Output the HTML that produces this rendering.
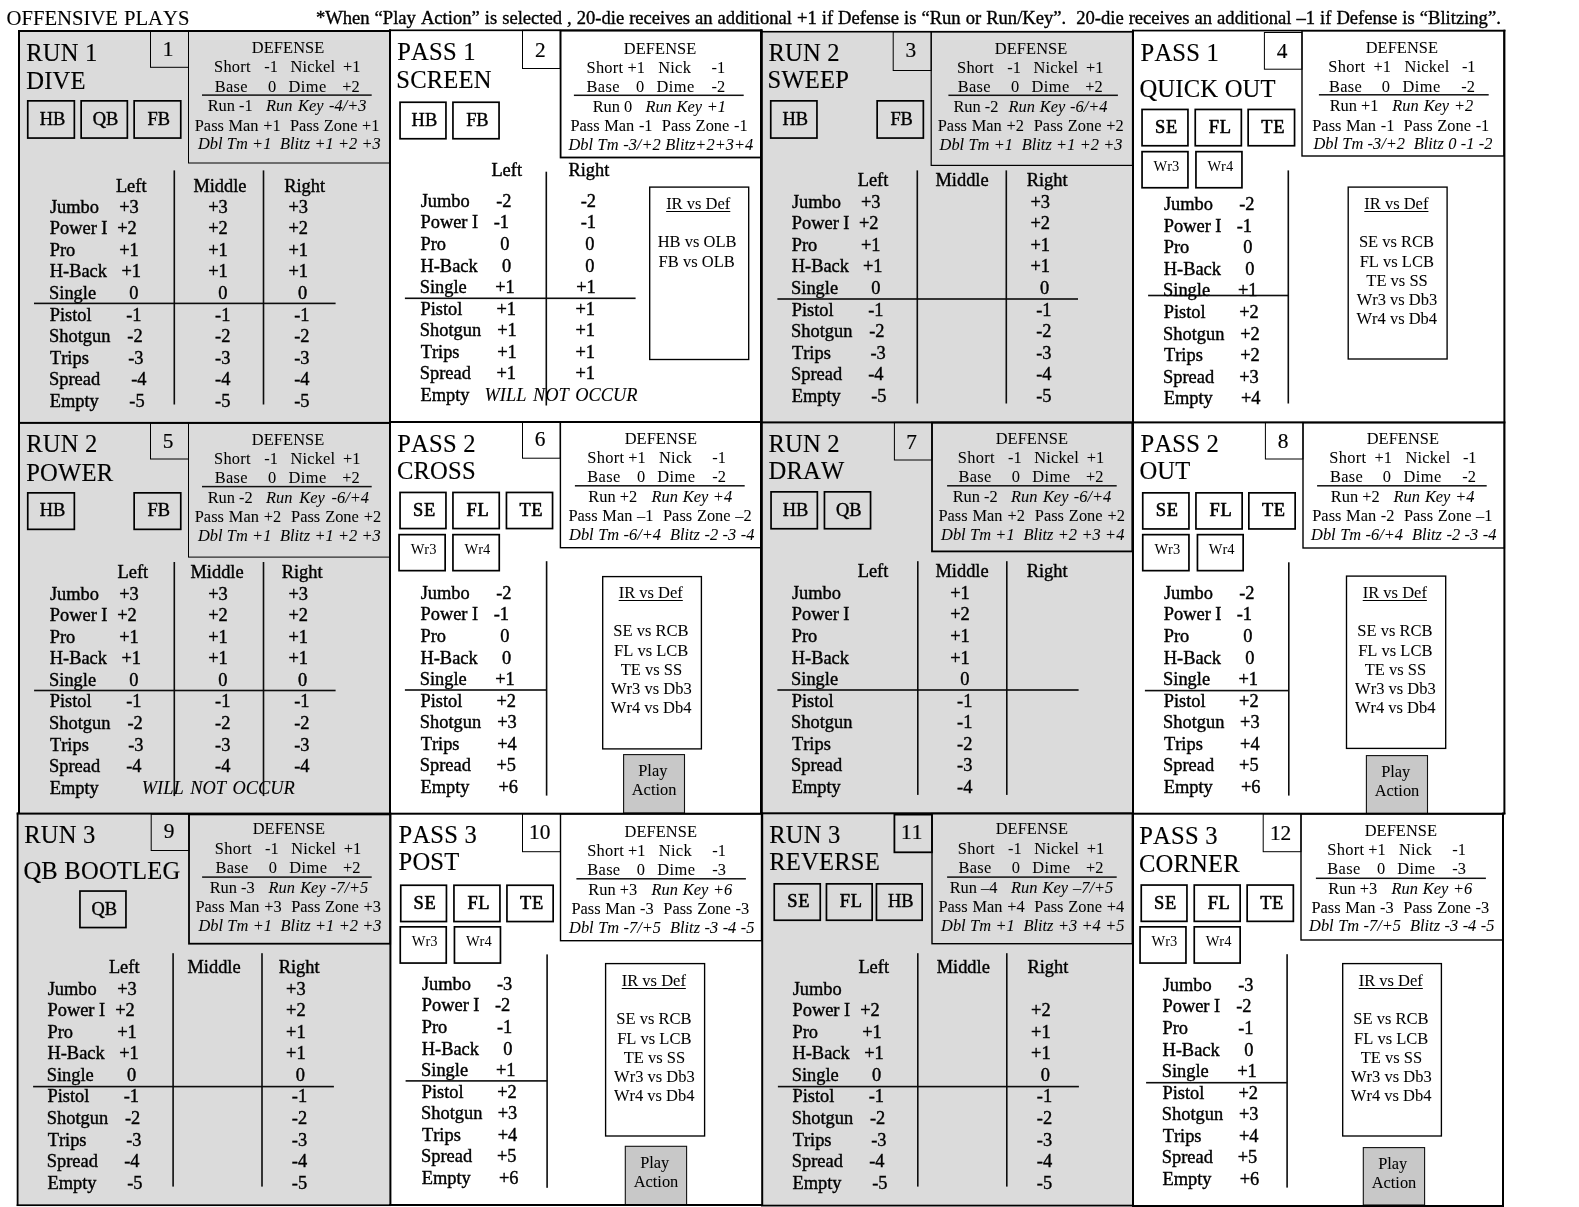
<!DOCTYPE html>
<html><head><meta charset="utf-8"><title>Offensive Plays</title>
<style>
html,body{margin:0;padding:0;background:#fff;}
body{width:1579px;height:1207px;position:relative;overflow:hidden;font-family:"Liberation Serif",serif;color:#000;}
svg{position:absolute;left:0;top:0;}
#tx{position:absolute;left:0;top:0;width:1579px;height:1207px;will-change:transform;}
.t{position:absolute;white-space:nowrap;line-height:30px;font-kerning:none;font-variant-ligatures:none;}
.it{font-style:italic;}
.bd{font-weight:bold;}
</style></head><body>
<svg width="1579" height="1207" viewBox="0 0 1579 1207">
<rect x="19.00" y="31.00" width="371.00" height="783.00" fill="#dbdbdb"/>
<rect x="17.60" y="813.00" width="372.80" height="392.20" fill="#dbdbdb"/>
<rect x="761.50" y="31.70" width="371.00" height="782.30" fill="#dbdbdb"/>
<rect x="762.20" y="813.00" width="370.80" height="392.60" fill="#dbdbdb"/>
<rect x="150.50" y="31.00" width="38.00" height="36.30" fill="none" stroke="#000" stroke-width="1.0"/>
<rect x="188.50" y="31.00" width="201.50" height="132.00" fill="none" stroke="#000" stroke-width="1.0"/>
<rect x="202.00" y="94.35" width="169.70" height="1.50" fill="#111"/>
<rect x="27.75" y="100.85" width="46.60" height="37.20" fill="none" stroke="#000" stroke-width="1.7"/>
<rect x="81.15" y="100.85" width="46.20" height="37.20" fill="none" stroke="#000" stroke-width="1.7"/>
<rect x="134.15" y="100.85" width="46.60" height="37.20" fill="none" stroke="#000" stroke-width="1.7"/>
<rect x="173.50" y="170.40" width="1.60" height="234.10" fill="#0c0c0c"/>
<rect x="262.70" y="170.40" width="1.60" height="234.10" fill="#0c0c0c"/>
<rect x="34.00" y="302.60" width="301.60" height="1.60" fill="#0c0c0c"/>
<rect x="522.50" y="30.30" width="37.70" height="38.20" fill="none" stroke="#000" stroke-width="1.0"/>
<rect x="560.60" y="30.60" width="200.40" height="126.90" fill="none" stroke="#000" stroke-width="1.8"/>
<rect x="573.90" y="94.55" width="169.80" height="1.50" fill="#111"/>
<rect x="400.05" y="102.25" width="45.90" height="36.50" fill="none" stroke="#000" stroke-width="1.7"/>
<rect x="452.95" y="102.25" width="46.10" height="36.50" fill="none" stroke="#000" stroke-width="1.7"/>
<rect x="545.50" y="171.70" width="1.60" height="233.80" fill="#0c0c0c"/>
<rect x="404.90" y="297.50" width="230.70" height="1.60" fill="#0c0c0c"/>
<rect x="649.70" y="187.10" width="99.00" height="172.40" fill="none" stroke="#000" stroke-width="1.35"/>
<rect x="893.20" y="31.70" width="38.00" height="38.80" fill="none" stroke="#000" stroke-width="1.0"/>
<rect x="931.20" y="31.70" width="201.30" height="133.70" fill="none" stroke="#000" stroke-width="1.2"/>
<rect x="948.40" y="94.55" width="169.50" height="1.50" fill="#111"/>
<rect x="770.75" y="100.85" width="46.20" height="37.20" fill="none" stroke="#000" stroke-width="1.7"/>
<rect x="877.15" y="100.85" width="46.20" height="37.20" fill="none" stroke="#000" stroke-width="1.7"/>
<rect x="916.50" y="170.40" width="1.60" height="233.10" fill="#0c0c0c"/>
<rect x="1005.50" y="170.40" width="1.60" height="233.10" fill="#0c0c0c"/>
<rect x="777.40" y="298.20" width="300.60" height="1.60" fill="#0c0c0c"/>
<rect x="1264.40" y="32.50" width="37.60" height="36.70" fill="none" stroke="#000" stroke-width="1.0"/>
<rect x="1302.00" y="30.70" width="202.00" height="125.30" fill="none" stroke="#000" stroke-width="1.4"/>
<rect x="1318.90" y="94.05" width="169.80" height="1.50" fill="#111"/>
<rect x="1142.05" y="109.45" width="45.90" height="36.30" fill="none" stroke="#000" stroke-width="1.7"/>
<rect x="1195.25" y="109.45" width="46.10" height="36.30" fill="none" stroke="#000" stroke-width="1.7"/>
<rect x="1248.15" y="109.45" width="46.40" height="36.30" fill="none" stroke="#000" stroke-width="1.7"/>
<rect x="1142.05" y="151.65" width="45.90" height="36.10" fill="none" stroke="#000" stroke-width="1.7"/>
<rect x="1195.95" y="151.65" width="46.00" height="36.10" fill="none" stroke="#000" stroke-width="1.7"/>
<rect x="1287.50" y="170.40" width="1.60" height="233.10" fill="#0c0c0c"/>
<rect x="1148.10" y="294.70" width="140.20" height="1.60" fill="#0c0c0c"/>
<rect x="1348.20" y="187.10" width="98.90" height="171.90" fill="#fff" stroke="#000" stroke-width="1.35"/>
<rect x="150.50" y="423.00" width="38.00" height="36.00" fill="none" stroke="#000" stroke-width="1.0"/>
<rect x="188.50" y="423.00" width="201.50" height="134.10" fill="none" stroke="#000" stroke-width="1.0"/>
<rect x="202.00" y="485.85" width="169.70" height="1.50" fill="#111"/>
<rect x="27.75" y="492.85" width="46.60" height="36.50" fill="none" stroke="#000" stroke-width="1.7"/>
<rect x="134.15" y="492.85" width="46.60" height="36.50" fill="none" stroke="#000" stroke-width="1.7"/>
<rect x="173.50" y="562.00" width="1.60" height="234.10" fill="#0c0c0c"/>
<rect x="262.70" y="562.00" width="1.60" height="234.10" fill="#0c0c0c"/>
<rect x="34.10" y="689.70" width="301.50" height="1.60" fill="#0c0c0c"/>
<rect x="522.50" y="422.00" width="37.70" height="36.20" fill="none" stroke="#000" stroke-width="1.0"/>
<rect x="560.40" y="422.20" width="200.60" height="125.50" fill="none" stroke="#000" stroke-width="1.4"/>
<rect x="574.90" y="485.05" width="169.80" height="1.50" fill="#111"/>
<rect x="400.05" y="492.45" width="45.90" height="36.10" fill="none" stroke="#000" stroke-width="1.7"/>
<rect x="452.95" y="492.45" width="46.30" height="36.10" fill="none" stroke="#000" stroke-width="1.7"/>
<rect x="506.45" y="492.45" width="46.10" height="36.10" fill="none" stroke="#000" stroke-width="1.7"/>
<rect x="399.05" y="534.65" width="46.10" height="36.00" fill="none" stroke="#000" stroke-width="1.7"/>
<rect x="452.95" y="534.65" width="46.30" height="36.00" fill="none" stroke="#000" stroke-width="1.7"/>
<rect x="545.80" y="561.20" width="1.60" height="234.40" fill="#0c0c0c"/>
<rect x="404.90" y="689.20" width="141.70" height="1.60" fill="#0c0c0c"/>
<rect x="602.70" y="576.60" width="98.70" height="172.30" fill="#fff" stroke="#000" stroke-width="1.35"/>
<rect x="623.60" y="754.60" width="60.90" height="58.40" fill="#c8c8c8" stroke="#111" stroke-width="1.1"/>
<rect x="894.40" y="422.40" width="37.60" height="37.60" fill="none" stroke="#000" stroke-width="1.0"/>
<rect x="932.00" y="422.60" width="200.30" height="128.80" fill="none" stroke="#000" stroke-width="1.8"/>
<rect x="947.10" y="485.05" width="169.60" height="1.50" fill="#111"/>
<rect x="771.05" y="491.85" width="46.30" height="36.90" fill="none" stroke="#000" stroke-width="1.7"/>
<rect x="824.45" y="491.85" width="46.10" height="36.90" fill="none" stroke="#000" stroke-width="1.7"/>
<rect x="917.00" y="561.20" width="1.60" height="233.70" fill="#0c0c0c"/>
<rect x="1006.00" y="561.20" width="1.60" height="233.70" fill="#0c0c0c"/>
<rect x="777.40" y="689.20" width="301.20" height="1.60" fill="#0c0c0c"/>
<rect x="1265.40" y="422.40" width="37.60" height="36.60" fill="none" stroke="#000" stroke-width="1.0"/>
<rect x="1303.00" y="422.60" width="201.40" height="125.40" fill="none" stroke="#000" stroke-width="1.4"/>
<rect x="1317.10" y="485.05" width="169.60" height="1.50" fill="#111"/>
<rect x="1142.75" y="492.85" width="46.20" height="36.10" fill="none" stroke="#000" stroke-width="1.7"/>
<rect x="1195.95" y="492.85" width="46.20" height="36.10" fill="none" stroke="#000" stroke-width="1.7"/>
<rect x="1248.85" y="492.85" width="46.30" height="36.10" fill="none" stroke="#000" stroke-width="1.7"/>
<rect x="1142.75" y="534.65" width="46.20" height="36.00" fill="none" stroke="#000" stroke-width="1.7"/>
<rect x="1197.45" y="534.65" width="45.70" height="36.00" fill="none" stroke="#000" stroke-width="1.7"/>
<rect x="1288.00" y="562.30" width="1.60" height="233.30" fill="#0c0c0c"/>
<rect x="1144.90" y="689.80" width="143.90" height="1.60" fill="#0c0c0c"/>
<rect x="1346.50" y="576.10" width="99.20" height="172.30" fill="#fff" stroke="#000" stroke-width="1.35"/>
<rect x="1366.40" y="755.60" width="61.10" height="57.90" fill="#c8c8c8" stroke="#111" stroke-width="1.1"/>
<rect x="151.20" y="814.20" width="37.80" height="36.30" fill="none" stroke="#000" stroke-width="1.0"/>
<rect x="189.00" y="814.40" width="201.20" height="129.30" fill="none" stroke="#000" stroke-width="1.8"/>
<rect x="202.10" y="876.35" width="169.60" height="1.50" fill="#111"/>
<rect x="79.95" y="891.05" width="46.00" height="36.50" fill="none" stroke="#000" stroke-width="1.7"/>
<rect x="172.30" y="953.20" width="1.60" height="233.40" fill="#0c0c0c"/>
<rect x="261.20" y="953.20" width="1.60" height="233.40" fill="#0c0c0c"/>
<rect x="33.10" y="1085.80" width="300.80" height="1.60" fill="#0c0c0c"/>
<rect x="522.50" y="813.70" width="38.00" height="38.00" fill="none" stroke="#000" stroke-width="1.0"/>
<rect x="560.50" y="813.90" width="201.00" height="126.80" fill="none" stroke="#000" stroke-width="1.4"/>
<rect x="576.40" y="878.05" width="169.50" height="1.50" fill="#111"/>
<rect x="400.75" y="885.25" width="45.70" height="36.30" fill="none" stroke="#000" stroke-width="1.7"/>
<rect x="453.95" y="885.25" width="46.00" height="36.30" fill="none" stroke="#000" stroke-width="1.7"/>
<rect x="506.95" y="885.25" width="46.20" height="36.30" fill="none" stroke="#000" stroke-width="1.7"/>
<rect x="400.25" y="926.85" width="46.00" height="36.20" fill="none" stroke="#000" stroke-width="1.7"/>
<rect x="454.45" y="926.85" width="46.00" height="36.20" fill="none" stroke="#000" stroke-width="1.7"/>
<rect x="546.30" y="954.40" width="1.60" height="233.40" fill="#0c0c0c"/>
<rect x="405.60" y="1080.10" width="141.50" height="1.60" fill="#0c0c0c"/>
<rect x="605.60" y="963.60" width="99.00" height="172.40" fill="#fff" stroke="#000" stroke-width="1.35"/>
<rect x="625.30" y="1146.30" width="61.30" height="58.70" fill="#c8c8c8" stroke="#111" stroke-width="1.1"/>
<rect x="894.40" y="814.60" width="37.60" height="37.70" fill="none" stroke="#000" stroke-width="1.8"/>
<rect x="932.00" y="813.60" width="200.30" height="130.10" fill="none" stroke="#000" stroke-width="1.4"/>
<rect x="947.10" y="876.35" width="169.60" height="1.50" fill="#111"/>
<rect x="774.25" y="883.85" width="46.00" height="36.40" fill="none" stroke="#000" stroke-width="1.7"/>
<rect x="826.45" y="883.85" width="45.70" height="36.40" fill="none" stroke="#000" stroke-width="1.7"/>
<rect x="876.45" y="883.85" width="45.70" height="36.40" fill="none" stroke="#000" stroke-width="1.7"/>
<rect x="917.00" y="953.20" width="1.60" height="233.40" fill="#0c0c0c"/>
<rect x="1006.00" y="953.20" width="1.60" height="233.40" fill="#0c0c0c"/>
<rect x="777.90" y="1085.80" width="301.00" height="1.60" fill="#0c0c0c"/>
<rect x="1263.20" y="813.70" width="37.80" height="38.00" fill="none" stroke="#000" stroke-width="1.0"/>
<rect x="1301.00" y="813.90" width="202.30" height="126.10" fill="none" stroke="#000" stroke-width="1.4"/>
<rect x="1315.90" y="877.55" width="170.00" height="1.50" fill="#111"/>
<rect x="1141.25" y="885.05" width="45.70" height="36.30" fill="none" stroke="#000" stroke-width="1.7"/>
<rect x="1194.25" y="885.05" width="45.90" height="36.30" fill="none" stroke="#000" stroke-width="1.7"/>
<rect x="1247.15" y="885.05" width="46.20" height="36.30" fill="none" stroke="#000" stroke-width="1.7"/>
<rect x="1140.05" y="926.85" width="45.90" height="36.20" fill="none" stroke="#000" stroke-width="1.7"/>
<rect x="1194.25" y="926.85" width="45.90" height="36.20" fill="none" stroke="#000" stroke-width="1.7"/>
<rect x="1286.30" y="954.20" width="1.60" height="233.40" fill="#0c0c0c"/>
<rect x="1146.10" y="1081.90" width="141.00" height="1.60" fill="#0c0c0c"/>
<rect x="1342.70" y="963.60" width="98.70" height="172.40" fill="#fff" stroke="#000" stroke-width="1.35"/>
<rect x="1363.30" y="1147.60" width="61.30" height="57.40" fill="#c8c8c8" stroke="#111" stroke-width="1.1"/>
<rect x="18.00" y="30.00" width="2.00" height="784.00" fill="#000"/>
<rect x="16.70" y="812.60" width="1.80" height="393.40" fill="#000"/>
<rect x="389.00" y="29.30" width="2.00" height="784.70" fill="#000"/>
<rect x="389.40" y="812.60" width="2.00" height="393.40" fill="#000"/>
<rect x="760.00" y="29.30" width="2.80" height="784.70" fill="#000"/>
<rect x="761.20" y="812.60" width="2.00" height="393.40" fill="#000"/>
<rect x="1132.00" y="29.70" width="2.00" height="784.30" fill="#000"/>
<rect x="1132.00" y="812.60" width="2.00" height="393.90" fill="#000"/>
<rect x="1503.40" y="29.70" width="2.00" height="784.30" fill="#000"/>
<rect x="1502.00" y="812.60" width="2.00" height="394.40" fill="#000"/>
<rect x="18.00" y="30.00" width="373.00" height="2.00" fill="#000"/>
<rect x="389.00" y="29.45" width="373.00" height="1.70" fill="#000"/>
<rect x="761.00" y="30.90" width="372.00" height="1.60" fill="#000"/>
<rect x="1132.00" y="29.75" width="373.40" height="1.70" fill="#000"/>
<rect x="18.00" y="421.90" width="373.00" height="2.00" fill="#000"/>
<rect x="389.00" y="421.00" width="373.00" height="2.00" fill="#000"/>
<rect x="761.00" y="421.40" width="372.00" height="2.00" fill="#000"/>
<rect x="1132.00" y="421.40" width="373.40" height="2.00" fill="#000"/>
<rect x="16.70" y="812.60" width="374.30" height="2.00" fill="#000"/>
<rect x="389.00" y="812.70" width="373.00" height="2.00" fill="#000"/>
<rect x="761.00" y="812.30" width="372.00" height="2.00" fill="#000"/>
<rect x="1132.00" y="812.70" width="373.40" height="2.00" fill="#000"/>
<rect x="16.70" y="1204.35" width="374.30" height="1.70" fill="#000"/>
<rect x="389.00" y="1204.00" width="373.00" height="2.00" fill="#000"/>
<rect x="761.00" y="1204.70" width="372.00" height="1.80" fill="#000"/>
<rect x="1132.00" y="1205.00" width="372.00" height="2.00" fill="#000"/>
</svg>
<div id="tx">
<div class="t" style="top:38px;font-size:24.6px;left:26.20px;-webkit-text-stroke:0.15px #000;letter-spacing:0.2px;">RUN&nbsp;1</div>
<div class="t" style="top:66px;font-size:24.6px;left:26.20px;-webkit-text-stroke:0.15px #000;letter-spacing:0.2px;">DIVE</div>
<div class="t" style="top:34px;font-size:21.33px;left:162.68px;-webkit-text-stroke:0.2px #000;">1</div>
<div class="t" style="top:33px;font-size:16.4px;left:251.84px;letter-spacing:0.081px;-webkit-text-stroke:0.05px #000;">DEFENSE</div>
<div class="t" style="top:52px;font-size:16.4px;left:214.01px;letter-spacing:0.279px;-webkit-text-stroke:0.05px #000;">Short</div>
<div class="t" style="top:52px;font-size:16.4px;left:264.20px;-webkit-text-stroke:0.05px #000;">-1</div>
<div class="t" style="top:52px;font-size:16.4px;left:290.44px;letter-spacing:0.192px;-webkit-text-stroke:0.05px #000;">Nickel</div>
<div class="t" style="top:52px;font-size:16.4px;left:343.01px;-webkit-text-stroke:0.05px #000;">+1</div>
<div class="t" style="top:72px;font-size:16.4px;left:214.64px;letter-spacing:0.347px;-webkit-text-stroke:0.05px #000;">Base</div>
<div class="t" style="top:72px;font-size:16.4px;left:267.90px;-webkit-text-stroke:0.05px #000;">0</div>
<div class="t" style="top:72px;font-size:16.4px;left:288.44px;letter-spacing:0.459px;-webkit-text-stroke:0.05px #000;">Dime</div>
<div class="t" style="top:72px;font-size:16.4px;left:342.31px;-webkit-text-stroke:0.05px #000;">+2</div>
<div class="t" style="top:91px;font-size:16.4px;left:207.64px;-webkit-text-stroke:0.05px #000;">Run&nbsp;-1</div>
<div class="t it" style="top:91px;font-size:16.4px;left:266.11px;word-spacing:1.415px;-webkit-text-stroke:0.05px #000;">Run&nbsp;Key&nbsp;-4/+3</div>
<div class="t" style="top:111px;font-size:16.4px;left:194.74px;word-spacing:0.546px;-webkit-text-stroke:0.05px #000;">Pass&nbsp;Man&nbsp;+1&nbsp;&nbsp;Pass&nbsp;Zone&nbsp;+1</div>
<div class="t it" style="top:129px;font-size:16.4px;left:197.89px;word-spacing:0.235px;-webkit-text-stroke:0.05px #000;">Dbl&nbsp;Tm&nbsp;+1&nbsp;&nbsp;Blitz&nbsp;+1&nbsp;+2&nbsp;+3</div>
<div class="t" style="top:104px;font-size:18.4px;left:39.66px;-webkit-text-stroke:0.4px #000;">HB</div>
<div class="t" style="top:104px;font-size:18.4px;left:92.75px;-webkit-text-stroke:0.4px #000;">QB</div>
<div class="t" style="top:104px;font-size:18.4px;left:147.58px;-webkit-text-stroke:0.4px #000;">FB</div>
<div class="t" style="top:171px;font-size:18.4px;left:115.88px;-webkit-text-stroke:0.4px #000;">Left</div>
<div class="t" style="top:171px;font-size:18.4px;left:193.38px;-webkit-text-stroke:0.4px #000;">Middle</div>
<div class="t" style="top:171px;font-size:18.4px;left:284.18px;-webkit-text-stroke:0.4px #000;">Right</div>
<div class="t" style="top:192px;font-size:18.4px;left:49.93px;-webkit-text-stroke:0.4px #000;">Jumbo</div>
<div class="t" style="top:213px;font-size:18.4px;left:49.78px;-webkit-text-stroke:0.4px #000;">Power&nbsp;I</div>
<div class="t" style="top:235px;font-size:18.4px;left:49.78px;-webkit-text-stroke:0.4px #000;">Pro</div>
<div class="t" style="top:256px;font-size:18.4px;left:49.78px;-webkit-text-stroke:0.4px #000;">H-Back</div>
<div class="t" style="top:278px;font-size:18.4px;left:49.07px;-webkit-text-stroke:0.4px #000;">Single</div>
<div class="t" style="top:300px;font-size:18.4px;left:49.78px;-webkit-text-stroke:0.4px #000;">Pistol</div>
<div class="t" style="top:321px;font-size:18.4px;left:49.07px;-webkit-text-stroke:0.4px #000;">Shotgun</div>
<div class="t" style="top:343px;font-size:18.4px;left:49.99px;-webkit-text-stroke:0.4px #000;">Trips</div>
<div class="t" style="top:364px;font-size:18.4px;left:49.07px;-webkit-text-stroke:0.4px #000;">Spread</div>
<div class="t" style="top:386px;font-size:18.4px;left:49.78px;-webkit-text-stroke:0.4px #000;">Empty</div>
<div class="t" style="top:192px;font-size:18.4px;left:119.21px;-webkit-text-stroke:0.4px #000;">+3</div>
<div class="t" style="top:213px;font-size:18.4px;left:117.21px;-webkit-text-stroke:0.4px #000;">+2</div>
<div class="t" style="top:235px;font-size:18.4px;left:119.21px;-webkit-text-stroke:0.4px #000;">+1</div>
<div class="t" style="top:256px;font-size:18.4px;left:121.51px;-webkit-text-stroke:0.4px #000;">+1</div>
<div class="t" style="top:278px;font-size:18.4px;left:129.13px;-webkit-text-stroke:0.4px #000;">0</div>
<div class="t" style="top:300px;font-size:18.4px;left:126.13px;-webkit-text-stroke:0.4px #000;">-1</div>
<div class="t" style="top:321px;font-size:18.4px;left:127.33px;-webkit-text-stroke:0.4px #000;">-2</div>
<div class="t" style="top:343px;font-size:18.4px;left:128.13px;-webkit-text-stroke:0.4px #000;">-3</div>
<div class="t" style="top:364px;font-size:18.4px;left:131.13px;-webkit-text-stroke:0.4px #000;">-4</div>
<div class="t" style="top:386px;font-size:18.4px;left:129.33px;-webkit-text-stroke:0.4px #000;">-5</div>
<div class="t" style="top:192px;font-size:18.4px;left:208.21px;-webkit-text-stroke:0.4px #000;">+3</div>
<div class="t" style="top:213px;font-size:18.4px;left:208.21px;-webkit-text-stroke:0.4px #000;">+2</div>
<div class="t" style="top:235px;font-size:18.4px;left:208.21px;-webkit-text-stroke:0.4px #000;">+1</div>
<div class="t" style="top:256px;font-size:18.4px;left:208.21px;-webkit-text-stroke:0.4px #000;">+1</div>
<div class="t" style="top:278px;font-size:18.4px;left:218.13px;-webkit-text-stroke:0.4px #000;">0</div>
<div class="t" style="top:300px;font-size:18.4px;left:215.03px;-webkit-text-stroke:0.4px #000;">-1</div>
<div class="t" style="top:321px;font-size:18.4px;left:215.03px;-webkit-text-stroke:0.4px #000;">-2</div>
<div class="t" style="top:343px;font-size:18.4px;left:215.03px;-webkit-text-stroke:0.4px #000;">-3</div>
<div class="t" style="top:364px;font-size:18.4px;left:215.03px;-webkit-text-stroke:0.4px #000;">-4</div>
<div class="t" style="top:386px;font-size:18.4px;left:215.03px;-webkit-text-stroke:0.4px #000;">-5</div>
<div class="t" style="top:192px;font-size:18.4px;left:288.41px;-webkit-text-stroke:0.4px #000;">+3</div>
<div class="t" style="top:213px;font-size:18.4px;left:288.41px;-webkit-text-stroke:0.4px #000;">+2</div>
<div class="t" style="top:235px;font-size:18.4px;left:288.41px;-webkit-text-stroke:0.4px #000;">+1</div>
<div class="t" style="top:256px;font-size:18.4px;left:288.41px;-webkit-text-stroke:0.4px #000;">+1</div>
<div class="t" style="top:278px;font-size:18.4px;left:298.03px;-webkit-text-stroke:0.4px #000;">0</div>
<div class="t" style="top:300px;font-size:18.4px;left:294.13px;-webkit-text-stroke:0.4px #000;">-1</div>
<div class="t" style="top:321px;font-size:18.4px;left:294.13px;-webkit-text-stroke:0.4px #000;">-2</div>
<div class="t" style="top:343px;font-size:18.4px;left:294.13px;-webkit-text-stroke:0.4px #000;">-3</div>
<div class="t" style="top:364px;font-size:18.4px;left:294.13px;-webkit-text-stroke:0.4px #000;">-4</div>
<div class="t" style="top:386px;font-size:18.4px;left:294.13px;-webkit-text-stroke:0.4px #000;">-5</div>
<div class="t" style="top:37px;font-size:24.6px;left:397.20px;-webkit-text-stroke:0.15px #000;letter-spacing:0.2px;">PASS&nbsp;1</div>
<div class="t" style="top:65px;font-size:24.6px;left:396.26px;-webkit-text-stroke:0.15px #000;letter-spacing:0.2px;">SCREEN</div>
<div class="t" style="top:35px;font-size:21.33px;left:534.94px;-webkit-text-stroke:0.2px #000;">2</div>
<div class="t" style="top:34px;font-size:16.4px;left:623.84px;letter-spacing:0.081px;-webkit-text-stroke:0.05px #000;">DEFENSE</div>
<div class="t" style="top:53px;font-size:16.4px;left:586.51px;letter-spacing:0.279px;-webkit-text-stroke:0.05px #000;">Short</div>
<div class="t" style="top:53px;font-size:16.4px;left:627.41px;-webkit-text-stroke:0.05px #000;">+1</div>
<div class="t" style="top:53px;font-size:16.4px;left:658.14px;letter-spacing:0.298px;-webkit-text-stroke:0.05px #000;">Nick</div>
<div class="t" style="top:53px;font-size:16.4px;left:711.50px;-webkit-text-stroke:0.05px #000;">-1</div>
<div class="t" style="top:72px;font-size:16.4px;left:586.54px;letter-spacing:0.347px;-webkit-text-stroke:0.05px #000;">Base</div>
<div class="t" style="top:72px;font-size:16.4px;left:636.10px;-webkit-text-stroke:0.05px #000;">0</div>
<div class="t" style="top:72px;font-size:16.4px;left:656.44px;letter-spacing:0.459px;-webkit-text-stroke:0.05px #000;">Dime</div>
<div class="t" style="top:72px;font-size:16.4px;left:711.50px;-webkit-text-stroke:0.05px #000;">-2</div>
<div class="t" style="top:92px;font-size:16.4px;left:592.64px;-webkit-text-stroke:0.05px #000;">Run&nbsp;0</div>
<div class="t it" style="top:92px;font-size:16.4px;left:645.41px;word-spacing:0.632px;-webkit-text-stroke:0.05px #000;">Run&nbsp;Key&nbsp;+1</div>
<div class="t" style="top:111px;font-size:16.4px;left:570.44px;word-spacing:0.541px;-webkit-text-stroke:0.05px #000;">Pass&nbsp;Man&nbsp;-1&nbsp;&nbsp;Pass&nbsp;Zone&nbsp;-1</div>
<div class="t it" style="top:130px;font-size:16.4px;left:568.39px;word-spacing:0.550px;-webkit-text-stroke:0.05px #000;">Dbl&nbsp;Tm&nbsp;-3/+2&nbsp;Blitz+2+3+4</div>
<div class="t" style="top:105px;font-size:18.4px;left:411.61px;-webkit-text-stroke:0.4px #000;">HB</div>
<div class="t" style="top:105px;font-size:18.4px;left:466.13px;-webkit-text-stroke:0.4px #000;">FB</div>
<div class="t" style="top:155px;font-size:18.4px;left:491.38px;-webkit-text-stroke:0.4px #000;">Left</div>
<div class="t" style="top:155px;font-size:18.4px;left:568.38px;-webkit-text-stroke:0.4px #000;">Right</div>
<div class="t" style="top:186px;font-size:18.4px;left:420.63px;-webkit-text-stroke:0.4px #000;">Jumbo</div>
<div class="t" style="top:207px;font-size:18.4px;left:420.48px;-webkit-text-stroke:0.4px #000;">Power&nbsp;I</div>
<div class="t" style="top:229px;font-size:18.4px;left:420.48px;-webkit-text-stroke:0.4px #000;">Pro</div>
<div class="t" style="top:251px;font-size:18.4px;left:420.48px;-webkit-text-stroke:0.4px #000;">H-Back</div>
<div class="t" style="top:272px;font-size:18.4px;left:419.77px;-webkit-text-stroke:0.4px #000;">Single</div>
<div class="t" style="top:294px;font-size:18.4px;left:420.48px;-webkit-text-stroke:0.4px #000;">Pistol</div>
<div class="t" style="top:315px;font-size:18.4px;left:419.77px;-webkit-text-stroke:0.4px #000;">Shotgun</div>
<div class="t" style="top:337px;font-size:18.4px;left:420.69px;-webkit-text-stroke:0.4px #000;">Trips</div>
<div class="t" style="top:358px;font-size:18.4px;left:419.77px;-webkit-text-stroke:0.4px #000;">Spread</div>
<div class="t" style="top:380px;font-size:18.4px;left:420.48px;-webkit-text-stroke:0.4px #000;">Empty</div>
<div class="t" style="top:186px;font-size:18.4px;left:496.23px;-webkit-text-stroke:0.4px #000;">-2</div>
<div class="t" style="top:207px;font-size:18.4px;left:493.73px;-webkit-text-stroke:0.4px #000;">-1</div>
<div class="t" style="top:229px;font-size:18.4px;left:500.13px;-webkit-text-stroke:0.4px #000;">0</div>
<div class="t" style="top:251px;font-size:18.4px;left:501.93px;-webkit-text-stroke:0.4px #000;">0</div>
<div class="t" style="top:272px;font-size:18.4px;left:495.21px;-webkit-text-stroke:0.4px #000;">+1</div>
<div class="t" style="top:294px;font-size:18.4px;left:496.51px;-webkit-text-stroke:0.4px #000;">+1</div>
<div class="t" style="top:315px;font-size:18.4px;left:497.21px;-webkit-text-stroke:0.4px #000;">+1</div>
<div class="t" style="top:337px;font-size:18.4px;left:497.21px;-webkit-text-stroke:0.4px #000;">+1</div>
<div class="t" style="top:358px;font-size:18.4px;left:496.51px;-webkit-text-stroke:0.4px #000;">+1</div>
<div class="t" style="top:186px;font-size:18.4px;left:580.73px;-webkit-text-stroke:0.4px #000;">-2</div>
<div class="t" style="top:207px;font-size:18.4px;left:580.73px;-webkit-text-stroke:0.4px #000;">-1</div>
<div class="t" style="top:229px;font-size:18.4px;left:585.13px;-webkit-text-stroke:0.4px #000;">0</div>
<div class="t" style="top:251px;font-size:18.4px;left:585.13px;-webkit-text-stroke:0.4px #000;">0</div>
<div class="t" style="top:272px;font-size:18.4px;left:576.21px;-webkit-text-stroke:0.4px #000;">+1</div>
<div class="t" style="top:294px;font-size:18.4px;left:575.51px;-webkit-text-stroke:0.4px #000;">+1</div>
<div class="t" style="top:315px;font-size:18.4px;left:575.51px;-webkit-text-stroke:0.4px #000;">+1</div>
<div class="t" style="top:337px;font-size:18.4px;left:575.51px;-webkit-text-stroke:0.4px #000;">+1</div>
<div class="t" style="top:358px;font-size:18.4px;left:575.51px;-webkit-text-stroke:0.4px #000;">+1</div>
<div class="t it" style="top:380px;font-size:18.4px;left:484.50px;word-spacing:1.909px;-webkit-text-stroke:0.1px #000;">WILL&nbsp;NOT&nbsp;OCCUR</div>
<div class="t" style="top:189px;font-size:16.5px;left:666.13px;-webkit-text-stroke:0.05px #000;text-decoration:underline;text-decoration-thickness:1px;text-underline-offset:2px;">IR&nbsp;vs&nbsp;Def</div>
<div class="t" style="top:227px;font-size:16.5px;left:657.64px;-webkit-text-stroke:0.05px #000;">HB&nbsp;vs&nbsp;OLB</div>
<div class="t" style="top:247px;font-size:16.5px;left:658.62px;-webkit-text-stroke:0.05px #000;">FB&nbsp;vs&nbsp;OLB</div>
<div class="t" style="top:38px;font-size:24.6px;left:768.50px;-webkit-text-stroke:0.15px #000;letter-spacing:0.2px;">RUN&nbsp;2</div>
<div class="t" style="top:65px;font-size:24.6px;left:767.56px;-webkit-text-stroke:0.15px #000;letter-spacing:0.2px;">SWEEP</div>
<div class="t" style="top:35px;font-size:21.33px;left:905.58px;-webkit-text-stroke:0.2px #000;">3</div>
<div class="t" style="top:34px;font-size:16.4px;left:994.84px;letter-spacing:0.081px;-webkit-text-stroke:0.05px #000;">DEFENSE</div>
<div class="t" style="top:53px;font-size:16.4px;left:957.01px;letter-spacing:0.279px;-webkit-text-stroke:0.05px #000;">Short</div>
<div class="t" style="top:53px;font-size:16.4px;left:1007.20px;-webkit-text-stroke:0.05px #000;">-1</div>
<div class="t" style="top:53px;font-size:16.4px;left:1033.44px;letter-spacing:0.192px;-webkit-text-stroke:0.05px #000;">Nickel</div>
<div class="t" style="top:53px;font-size:16.4px;left:1086.01px;-webkit-text-stroke:0.05px #000;">+1</div>
<div class="t" style="top:72px;font-size:16.4px;left:957.64px;letter-spacing:0.347px;-webkit-text-stroke:0.05px #000;">Base</div>
<div class="t" style="top:72px;font-size:16.4px;left:1010.90px;-webkit-text-stroke:0.05px #000;">0</div>
<div class="t" style="top:72px;font-size:16.4px;left:1031.44px;letter-spacing:0.459px;-webkit-text-stroke:0.05px #000;">Dime</div>
<div class="t" style="top:72px;font-size:16.4px;left:1085.31px;-webkit-text-stroke:0.05px #000;">+2</div>
<div class="t" style="top:92px;font-size:16.4px;left:953.44px;-webkit-text-stroke:0.05px #000;">Run&nbsp;-2</div>
<div class="t it" style="top:92px;font-size:16.4px;left:1008.61px;word-spacing:0.669px;-webkit-text-stroke:0.05px #000;">Run&nbsp;Key&nbsp;-6/+4</div>
<div class="t" style="top:111px;font-size:16.4px;left:937.74px;word-spacing:0.749px;-webkit-text-stroke:0.05px #000;">Pass&nbsp;Man&nbsp;+2&nbsp;&nbsp;Pass&nbsp;Zone&nbsp;+2</div>
<div class="t it" style="top:130px;font-size:16.4px;left:939.59px;word-spacing:0.235px;-webkit-text-stroke:0.05px #000;">Dbl&nbsp;Tm&nbsp;+1&nbsp;&nbsp;Blitz&nbsp;+1&nbsp;+2&nbsp;+3</div>
<div class="t" style="top:104px;font-size:18.4px;left:782.46px;-webkit-text-stroke:0.4px #000;">HB</div>
<div class="t" style="top:104px;font-size:18.4px;left:890.38px;-webkit-text-stroke:0.4px #000;">FB</div>
<div class="t" style="top:165px;font-size:18.4px;left:857.68px;-webkit-text-stroke:0.4px #000;">Left</div>
<div class="t" style="top:165px;font-size:18.4px;left:935.48px;-webkit-text-stroke:0.4px #000;">Middle</div>
<div class="t" style="top:165px;font-size:18.4px;left:1026.68px;-webkit-text-stroke:0.4px #000;">Right</div>
<div class="t" style="top:187px;font-size:18.4px;left:791.93px;-webkit-text-stroke:0.4px #000;">Jumbo</div>
<div class="t" style="top:208px;font-size:18.4px;left:791.78px;-webkit-text-stroke:0.4px #000;">Power&nbsp;I</div>
<div class="t" style="top:230px;font-size:18.4px;left:791.78px;-webkit-text-stroke:0.4px #000;">Pro</div>
<div class="t" style="top:251px;font-size:18.4px;left:791.78px;-webkit-text-stroke:0.4px #000;">H-Back</div>
<div class="t" style="top:273px;font-size:18.4px;left:791.07px;-webkit-text-stroke:0.4px #000;">Single</div>
<div class="t" style="top:295px;font-size:18.4px;left:791.78px;-webkit-text-stroke:0.4px #000;">Pistol</div>
<div class="t" style="top:316px;font-size:18.4px;left:791.07px;-webkit-text-stroke:0.4px #000;">Shotgun</div>
<div class="t" style="top:338px;font-size:18.4px;left:791.99px;-webkit-text-stroke:0.4px #000;">Trips</div>
<div class="t" style="top:359px;font-size:18.4px;left:791.07px;-webkit-text-stroke:0.4px #000;">Spread</div>
<div class="t" style="top:381px;font-size:18.4px;left:791.78px;-webkit-text-stroke:0.4px #000;">Empty</div>
<div class="t" style="top:187px;font-size:18.4px;left:861.01px;-webkit-text-stroke:0.4px #000;">+3</div>
<div class="t" style="top:208px;font-size:18.4px;left:859.01px;-webkit-text-stroke:0.4px #000;">+2</div>
<div class="t" style="top:230px;font-size:18.4px;left:861.01px;-webkit-text-stroke:0.4px #000;">+1</div>
<div class="t" style="top:251px;font-size:18.4px;left:863.01px;-webkit-text-stroke:0.4px #000;">+1</div>
<div class="t" style="top:273px;font-size:18.4px;left:871.13px;-webkit-text-stroke:0.4px #000;">0</div>
<div class="t" style="top:295px;font-size:18.4px;left:868.13px;-webkit-text-stroke:0.4px #000;">-1</div>
<div class="t" style="top:316px;font-size:18.4px;left:869.13px;-webkit-text-stroke:0.4px #000;">-2</div>
<div class="t" style="top:338px;font-size:18.4px;left:870.43px;-webkit-text-stroke:0.4px #000;">-3</div>
<div class="t" style="top:359px;font-size:18.4px;left:868.13px;-webkit-text-stroke:0.4px #000;">-4</div>
<div class="t" style="top:381px;font-size:18.4px;left:871.13px;-webkit-text-stroke:0.4px #000;">-5</div>
<div class="t" style="top:187px;font-size:18.4px;left:1030.41px;-webkit-text-stroke:0.4px #000;">+3</div>
<div class="t" style="top:208px;font-size:18.4px;left:1030.41px;-webkit-text-stroke:0.4px #000;">+2</div>
<div class="t" style="top:230px;font-size:18.4px;left:1030.41px;-webkit-text-stroke:0.4px #000;">+1</div>
<div class="t" style="top:251px;font-size:18.4px;left:1030.41px;-webkit-text-stroke:0.4px #000;">+1</div>
<div class="t" style="top:273px;font-size:18.4px;left:1040.03px;-webkit-text-stroke:0.4px #000;">0</div>
<div class="t" style="top:295px;font-size:18.4px;left:1036.13px;-webkit-text-stroke:0.4px #000;">-1</div>
<div class="t" style="top:316px;font-size:18.4px;left:1036.13px;-webkit-text-stroke:0.4px #000;">-2</div>
<div class="t" style="top:338px;font-size:18.4px;left:1036.13px;-webkit-text-stroke:0.4px #000;">-3</div>
<div class="t" style="top:359px;font-size:18.4px;left:1036.13px;-webkit-text-stroke:0.4px #000;">-4</div>
<div class="t" style="top:381px;font-size:18.4px;left:1036.13px;-webkit-text-stroke:0.4px #000;">-5</div>
<div class="t" style="top:38px;font-size:24.6px;left:1140.50px;-webkit-text-stroke:0.15px #000;letter-spacing:0.2px;">PASS&nbsp;1</div>
<div class="t" style="top:74px;font-size:24.6px;left:1139.42px;-webkit-text-stroke:0.15px #000;letter-spacing:0.2px;">QUICK&nbsp;OUT</div>
<div class="t" style="top:36px;font-size:21.33px;left:1276.63px;-webkit-text-stroke:0.2px #000;">4</div>
<div class="t" style="top:33px;font-size:16.4px;left:1365.64px;letter-spacing:0.081px;-webkit-text-stroke:0.05px #000;">DEFENSE</div>
<div class="t" style="top:52px;font-size:16.4px;left:1328.31px;letter-spacing:0.279px;-webkit-text-stroke:0.05px #000;">Short</div>
<div class="t" style="top:52px;font-size:16.4px;left:1373.41px;-webkit-text-stroke:0.05px #000;">+1</div>
<div class="t" style="top:52px;font-size:16.4px;left:1404.54px;letter-spacing:0.192px;-webkit-text-stroke:0.05px #000;">Nickel</div>
<div class="t" style="top:52px;font-size:16.4px;left:1461.90px;-webkit-text-stroke:0.05px #000;">-1</div>
<div class="t" style="top:72px;font-size:16.4px;left:1328.94px;letter-spacing:0.347px;-webkit-text-stroke:0.05px #000;">Base</div>
<div class="t" style="top:72px;font-size:16.4px;left:1381.70px;-webkit-text-stroke:0.05px #000;">0</div>
<div class="t" style="top:72px;font-size:16.4px;left:1402.44px;letter-spacing:0.459px;-webkit-text-stroke:0.05px #000;">Dime</div>
<div class="t" style="top:72px;font-size:16.4px;left:1461.20px;-webkit-text-stroke:0.05px #000;">-2</div>
<div class="t" style="top:91px;font-size:16.4px;left:1329.64px;-webkit-text-stroke:0.05px #000;">Run&nbsp;+1</div>
<div class="t it" style="top:91px;font-size:16.4px;left:1392.31px;word-spacing:0.835px;-webkit-text-stroke:0.05px #000;">Run&nbsp;Key&nbsp;+2</div>
<div class="t" style="top:111px;font-size:16.4px;left:1312.24px;word-spacing:0.524px;-webkit-text-stroke:0.05px #000;">Pass&nbsp;Man&nbsp;-1&nbsp;&nbsp;Pass&nbsp;Zone&nbsp;-1</div>
<div class="t it" style="top:129px;font-size:16.4px;left:1313.39px;word-spacing:0.246px;-webkit-text-stroke:0.05px #000;">Dbl&nbsp;Tm&nbsp;-3/+2&nbsp;&nbsp;Blitz&nbsp;0&nbsp;-1&nbsp;-2</div>
<div class="t sb" style="top:112px;font-size:18.4px;left:1155.00px;letter-spacing:0.7px;-webkit-text-stroke:0.6px #000;">SE</div>
<div class="t sb" style="top:112px;font-size:18.4px;left:1208.74px;letter-spacing:0.7px;-webkit-text-stroke:0.6px #000;">FL</div>
<div class="t sb" style="top:112px;font-size:18.4px;left:1261.30px;letter-spacing:0.7px;-webkit-text-stroke:0.6px #000;">TE</div>
<div class="t" style="top:151px;font-size:14.5px;left:1153.60px;">Wr3</div>
<div class="t" style="top:151px;font-size:14.5px;left:1207.38px;">Wr4</div>
<div class="t" style="top:189px;font-size:18.4px;left:1163.93px;-webkit-text-stroke:0.4px #000;">Jumbo</div>
<div class="t" style="top:211px;font-size:18.4px;left:1163.78px;-webkit-text-stroke:0.4px #000;">Power&nbsp;I</div>
<div class="t" style="top:232px;font-size:18.4px;left:1163.78px;-webkit-text-stroke:0.4px #000;">Pro</div>
<div class="t" style="top:254px;font-size:18.4px;left:1163.78px;-webkit-text-stroke:0.4px #000;">H-Back</div>
<div class="t" style="top:275px;font-size:18.4px;left:1163.07px;-webkit-text-stroke:0.4px #000;">Single</div>
<div class="t" style="top:297px;font-size:18.4px;left:1163.78px;-webkit-text-stroke:0.4px #000;">Pistol</div>
<div class="t" style="top:319px;font-size:18.4px;left:1163.07px;-webkit-text-stroke:0.4px #000;">Shotgun</div>
<div class="t" style="top:340px;font-size:18.4px;left:1163.99px;-webkit-text-stroke:0.4px #000;">Trips</div>
<div class="t" style="top:362px;font-size:18.4px;left:1163.07px;-webkit-text-stroke:0.4px #000;">Spread</div>
<div class="t" style="top:383px;font-size:18.4px;left:1163.78px;-webkit-text-stroke:0.4px #000;">Empty</div>
<div class="t" style="top:189px;font-size:18.4px;left:1239.13px;-webkit-text-stroke:0.4px #000;">-2</div>
<div class="t" style="top:211px;font-size:18.4px;left:1236.73px;-webkit-text-stroke:0.4px #000;">-1</div>
<div class="t" style="top:232px;font-size:18.4px;left:1243.13px;-webkit-text-stroke:0.4px #000;">0</div>
<div class="t" style="top:254px;font-size:18.4px;left:1245.33px;-webkit-text-stroke:0.4px #000;">0</div>
<div class="t" style="top:275px;font-size:18.4px;left:1237.91px;-webkit-text-stroke:0.4px #000;">+1</div>
<div class="t" style="top:297px;font-size:18.4px;left:1239.21px;-webkit-text-stroke:0.4px #000;">+2</div>
<div class="t" style="top:319px;font-size:18.4px;left:1240.21px;-webkit-text-stroke:0.4px #000;">+2</div>
<div class="t" style="top:340px;font-size:18.4px;left:1240.21px;-webkit-text-stroke:0.4px #000;">+2</div>
<div class="t" style="top:362px;font-size:18.4px;left:1239.21px;-webkit-text-stroke:0.4px #000;">+3</div>
<div class="t" style="top:383px;font-size:18.4px;left:1240.91px;-webkit-text-stroke:0.4px #000;">+4</div>
<div class="t" style="top:189px;font-size:16.5px;left:1364.28px;-webkit-text-stroke:0.05px #000;text-decoration:underline;text-decoration-thickness:1px;text-underline-offset:2px;">IR&nbsp;vs&nbsp;Def</div>
<div class="t" style="top:227px;font-size:16.5px;left:1358.91px;-webkit-text-stroke:0.05px #000;">SE&nbsp;vs&nbsp;RCB</div>
<div class="t" style="top:247px;font-size:16.5px;left:1359.69px;-webkit-text-stroke:0.05px #000;">FL&nbsp;vs&nbsp;LCB</div>
<div class="t" style="top:266px;font-size:16.5px;left:1366.30px;-webkit-text-stroke:0.05px #000;">TE&nbsp;vs&nbsp;SS</div>
<div class="t" style="top:285px;font-size:16.5px;left:1356.64px;-webkit-text-stroke:0.05px #000;">Wr3&nbsp;vs&nbsp;Db3</div>
<div class="t" style="top:304px;font-size:16.5px;left:1356.45px;-webkit-text-stroke:0.05px #000;">Wr4&nbsp;vs&nbsp;Db4</div>
<div class="t" style="top:429px;font-size:24.6px;left:26.20px;-webkit-text-stroke:0.15px #000;letter-spacing:0.2px;">RUN&nbsp;2</div>
<div class="t" style="top:458px;font-size:24.6px;left:26.20px;-webkit-text-stroke:0.15px #000;letter-spacing:0.2px;">POWER</div>
<div class="t" style="top:426px;font-size:21.33px;left:162.77px;-webkit-text-stroke:0.2px #000;">5</div>
<div class="t" style="top:425px;font-size:16.4px;left:251.84px;letter-spacing:0.081px;-webkit-text-stroke:0.05px #000;">DEFENSE</div>
<div class="t" style="top:444px;font-size:16.4px;left:214.01px;letter-spacing:0.279px;-webkit-text-stroke:0.05px #000;">Short</div>
<div class="t" style="top:444px;font-size:16.4px;left:264.20px;-webkit-text-stroke:0.05px #000;">-1</div>
<div class="t" style="top:444px;font-size:16.4px;left:290.44px;letter-spacing:0.192px;-webkit-text-stroke:0.05px #000;">Nickel</div>
<div class="t" style="top:444px;font-size:16.4px;left:343.01px;-webkit-text-stroke:0.05px #000;">+1</div>
<div class="t" style="top:463px;font-size:16.4px;left:214.64px;letter-spacing:0.347px;-webkit-text-stroke:0.05px #000;">Base</div>
<div class="t" style="top:463px;font-size:16.4px;left:267.90px;-webkit-text-stroke:0.05px #000;">0</div>
<div class="t" style="top:463px;font-size:16.4px;left:288.44px;letter-spacing:0.459px;-webkit-text-stroke:0.05px #000;">Dime</div>
<div class="t" style="top:463px;font-size:16.4px;left:342.31px;-webkit-text-stroke:0.05px #000;">+2</div>
<div class="t" style="top:483px;font-size:16.4px;left:207.64px;-webkit-text-stroke:0.05px #000;">Run&nbsp;-2</div>
<div class="t it" style="top:483px;font-size:16.4px;left:266.11px;word-spacing:2.669px;-webkit-text-stroke:0.05px #000;">Run&nbsp;Key&nbsp;-6/+4</div>
<div class="t" style="top:502px;font-size:16.4px;left:194.74px;word-spacing:0.832px;-webkit-text-stroke:0.05px #000;">Pass&nbsp;Man&nbsp;+2&nbsp;&nbsp;Pass&nbsp;Zone&nbsp;+2</div>
<div class="t it" style="top:521px;font-size:16.4px;left:197.89px;word-spacing:0.235px;-webkit-text-stroke:0.05px #000;">Dbl&nbsp;Tm&nbsp;+1&nbsp;&nbsp;Blitz&nbsp;+1&nbsp;+2&nbsp;+3</div>
<div class="t" style="top:495px;font-size:18.4px;left:39.66px;-webkit-text-stroke:0.4px #000;">HB</div>
<div class="t" style="top:495px;font-size:18.4px;left:147.58px;-webkit-text-stroke:0.4px #000;">FB</div>
<div class="t" style="top:557px;font-size:18.4px;left:117.58px;-webkit-text-stroke:0.4px #000;">Left</div>
<div class="t" style="top:557px;font-size:18.4px;left:190.48px;-webkit-text-stroke:0.4px #000;">Middle</div>
<div class="t" style="top:557px;font-size:18.4px;left:281.68px;-webkit-text-stroke:0.4px #000;">Right</div>
<div class="t" style="top:579px;font-size:18.4px;left:49.93px;-webkit-text-stroke:0.4px #000;">Jumbo</div>
<div class="t" style="top:600px;font-size:18.4px;left:49.78px;-webkit-text-stroke:0.4px #000;">Power&nbsp;I</div>
<div class="t" style="top:622px;font-size:18.4px;left:49.78px;-webkit-text-stroke:0.4px #000;">Pro</div>
<div class="t" style="top:643px;font-size:18.4px;left:49.78px;-webkit-text-stroke:0.4px #000;">H-Back</div>
<div class="t" style="top:665px;font-size:18.4px;left:49.07px;-webkit-text-stroke:0.4px #000;">Single</div>
<div class="t" style="top:686px;font-size:18.4px;left:49.78px;-webkit-text-stroke:0.4px #000;">Pistol</div>
<div class="t" style="top:708px;font-size:18.4px;left:49.07px;-webkit-text-stroke:0.4px #000;">Shotgun</div>
<div class="t" style="top:730px;font-size:18.4px;left:49.99px;-webkit-text-stroke:0.4px #000;">Trips</div>
<div class="t" style="top:751px;font-size:18.4px;left:49.07px;-webkit-text-stroke:0.4px #000;">Spread</div>
<div class="t" style="top:773px;font-size:18.4px;left:49.78px;-webkit-text-stroke:0.4px #000;">Empty</div>
<div class="t" style="top:579px;font-size:18.4px;left:119.21px;-webkit-text-stroke:0.4px #000;">+3</div>
<div class="t" style="top:600px;font-size:18.4px;left:117.21px;-webkit-text-stroke:0.4px #000;">+2</div>
<div class="t" style="top:622px;font-size:18.4px;left:119.21px;-webkit-text-stroke:0.4px #000;">+1</div>
<div class="t" style="top:643px;font-size:18.4px;left:121.51px;-webkit-text-stroke:0.4px #000;">+1</div>
<div class="t" style="top:665px;font-size:18.4px;left:129.13px;-webkit-text-stroke:0.4px #000;">0</div>
<div class="t" style="top:686px;font-size:18.4px;left:126.13px;-webkit-text-stroke:0.4px #000;">-1</div>
<div class="t" style="top:708px;font-size:18.4px;left:127.43px;-webkit-text-stroke:0.4px #000;">-2</div>
<div class="t" style="top:730px;font-size:18.4px;left:128.13px;-webkit-text-stroke:0.4px #000;">-3</div>
<div class="t" style="top:751px;font-size:18.4px;left:126.13px;-webkit-text-stroke:0.4px #000;">-4</div>
<div class="t" style="top:579px;font-size:18.4px;left:208.21px;-webkit-text-stroke:0.4px #000;">+3</div>
<div class="t" style="top:600px;font-size:18.4px;left:208.21px;-webkit-text-stroke:0.4px #000;">+2</div>
<div class="t" style="top:622px;font-size:18.4px;left:208.21px;-webkit-text-stroke:0.4px #000;">+1</div>
<div class="t" style="top:643px;font-size:18.4px;left:208.21px;-webkit-text-stroke:0.4px #000;">+1</div>
<div class="t" style="top:665px;font-size:18.4px;left:218.13px;-webkit-text-stroke:0.4px #000;">0</div>
<div class="t" style="top:686px;font-size:18.4px;left:215.03px;-webkit-text-stroke:0.4px #000;">-1</div>
<div class="t" style="top:708px;font-size:18.4px;left:215.03px;-webkit-text-stroke:0.4px #000;">-2</div>
<div class="t" style="top:730px;font-size:18.4px;left:215.03px;-webkit-text-stroke:0.4px #000;">-3</div>
<div class="t" style="top:751px;font-size:18.4px;left:215.03px;-webkit-text-stroke:0.4px #000;">-4</div>
<div class="t" style="top:579px;font-size:18.4px;left:288.41px;-webkit-text-stroke:0.4px #000;">+3</div>
<div class="t" style="top:600px;font-size:18.4px;left:288.41px;-webkit-text-stroke:0.4px #000;">+2</div>
<div class="t" style="top:622px;font-size:18.4px;left:288.41px;-webkit-text-stroke:0.4px #000;">+1</div>
<div class="t" style="top:643px;font-size:18.4px;left:288.41px;-webkit-text-stroke:0.4px #000;">+1</div>
<div class="t" style="top:665px;font-size:18.4px;left:298.03px;-webkit-text-stroke:0.4px #000;">0</div>
<div class="t" style="top:686px;font-size:18.4px;left:294.13px;-webkit-text-stroke:0.4px #000;">-1</div>
<div class="t" style="top:708px;font-size:18.4px;left:294.13px;-webkit-text-stroke:0.4px #000;">-2</div>
<div class="t" style="top:730px;font-size:18.4px;left:294.13px;-webkit-text-stroke:0.4px #000;">-3</div>
<div class="t" style="top:751px;font-size:18.4px;left:294.13px;-webkit-text-stroke:0.4px #000;">-4</div>
<div class="t it" style="top:773px;font-size:18.4px;left:141.80px;word-spacing:1.909px;-webkit-text-stroke:0.1px #000;">WILL&nbsp;NOT&nbsp;OCCUR</div>
<div class="t" style="top:429px;font-size:24.6px;left:397.20px;-webkit-text-stroke:0.15px #000;letter-spacing:0.2px;">PASS&nbsp;2</div>
<div class="t" style="top:456px;font-size:24.6px;left:396.92px;-webkit-text-stroke:0.15px #000;letter-spacing:0.2px;">CROSS</div>
<div class="t" style="top:424px;font-size:21.33px;left:534.68px;-webkit-text-stroke:0.2px #000;">6</div>
<div class="t" style="top:424px;font-size:16.4px;left:624.64px;letter-spacing:0.081px;-webkit-text-stroke:0.05px #000;">DEFENSE</div>
<div class="t" style="top:443px;font-size:16.4px;left:587.31px;letter-spacing:0.279px;-webkit-text-stroke:0.05px #000;">Short</div>
<div class="t" style="top:443px;font-size:16.4px;left:628.21px;-webkit-text-stroke:0.05px #000;">+1</div>
<div class="t" style="top:443px;font-size:16.4px;left:658.94px;letter-spacing:0.298px;-webkit-text-stroke:0.05px #000;">Nick</div>
<div class="t" style="top:443px;font-size:16.4px;left:712.30px;-webkit-text-stroke:0.05px #000;">-1</div>
<div class="t" style="top:462px;font-size:16.4px;left:587.34px;letter-spacing:0.347px;-webkit-text-stroke:0.05px #000;">Base</div>
<div class="t" style="top:462px;font-size:16.4px;left:636.90px;-webkit-text-stroke:0.05px #000;">0</div>
<div class="t" style="top:462px;font-size:16.4px;left:657.24px;letter-spacing:0.459px;-webkit-text-stroke:0.05px #000;">Dime</div>
<div class="t" style="top:462px;font-size:16.4px;left:712.30px;-webkit-text-stroke:0.05px #000;">-2</div>
<div class="t" style="top:482px;font-size:16.4px;left:588.34px;-webkit-text-stroke:0.05px #000;">Run&nbsp;+2</div>
<div class="t it" style="top:482px;font-size:16.4px;left:651.61px;word-spacing:0.585px;-webkit-text-stroke:0.05px #000;">Run&nbsp;Key&nbsp;+4</div>
<div class="t" style="top:501px;font-size:16.4px;left:568.44px;word-spacing:0.645px;-webkit-text-stroke:0.05px #000;">Pass&nbsp;Man&nbsp;–1&nbsp;&nbsp;Pass&nbsp;Zone&nbsp;–2</div>
<div class="t it" style="top:520px;font-size:16.4px;left:569.09px;word-spacing:0.366px;-webkit-text-stroke:0.05px #000;">Dbl&nbsp;Tm&nbsp;-6/+4&nbsp;&nbsp;Blitz&nbsp;-2&nbsp;-3&nbsp;-4</div>
<div class="t sb" style="top:495px;font-size:18.4px;left:413.00px;letter-spacing:0.7px;-webkit-text-stroke:0.6px #000;">SE</div>
<div class="t sb" style="top:495px;font-size:18.4px;left:466.54px;letter-spacing:0.7px;-webkit-text-stroke:0.6px #000;">FL</div>
<div class="t sb" style="top:495px;font-size:18.4px;left:519.45px;letter-spacing:0.7px;-webkit-text-stroke:0.6px #000;">TE</div>
<div class="t" style="top:534px;font-size:14.5px;left:410.70px;">Wr3</div>
<div class="t" style="top:534px;font-size:14.5px;left:464.53px;">Wr4</div>
<div class="t" style="top:578px;font-size:18.4px;left:420.63px;-webkit-text-stroke:0.4px #000;">Jumbo</div>
<div class="t" style="top:599px;font-size:18.4px;left:420.48px;-webkit-text-stroke:0.4px #000;">Power&nbsp;I</div>
<div class="t" style="top:621px;font-size:18.4px;left:420.48px;-webkit-text-stroke:0.4px #000;">Pro</div>
<div class="t" style="top:643px;font-size:18.4px;left:420.48px;-webkit-text-stroke:0.4px #000;">H-Back</div>
<div class="t" style="top:664px;font-size:18.4px;left:419.77px;-webkit-text-stroke:0.4px #000;">Single</div>
<div class="t" style="top:686px;font-size:18.4px;left:420.48px;-webkit-text-stroke:0.4px #000;">Pistol</div>
<div class="t" style="top:707px;font-size:18.4px;left:419.77px;-webkit-text-stroke:0.4px #000;">Shotgun</div>
<div class="t" style="top:729px;font-size:18.4px;left:420.69px;-webkit-text-stroke:0.4px #000;">Trips</div>
<div class="t" style="top:750px;font-size:18.4px;left:419.77px;-webkit-text-stroke:0.4px #000;">Spread</div>
<div class="t" style="top:772px;font-size:18.4px;left:420.48px;-webkit-text-stroke:0.4px #000;">Empty</div>
<div class="t" style="top:578px;font-size:18.4px;left:496.23px;-webkit-text-stroke:0.4px #000;">-2</div>
<div class="t" style="top:599px;font-size:18.4px;left:493.73px;-webkit-text-stroke:0.4px #000;">-1</div>
<div class="t" style="top:621px;font-size:18.4px;left:500.13px;-webkit-text-stroke:0.4px #000;">0</div>
<div class="t" style="top:643px;font-size:18.4px;left:501.93px;-webkit-text-stroke:0.4px #000;">0</div>
<div class="t" style="top:664px;font-size:18.4px;left:495.21px;-webkit-text-stroke:0.4px #000;">+1</div>
<div class="t" style="top:686px;font-size:18.4px;left:496.51px;-webkit-text-stroke:0.4px #000;">+2</div>
<div class="t" style="top:707px;font-size:18.4px;left:497.21px;-webkit-text-stroke:0.4px #000;">+3</div>
<div class="t" style="top:729px;font-size:18.4px;left:497.21px;-webkit-text-stroke:0.4px #000;">+4</div>
<div class="t" style="top:750px;font-size:18.4px;left:496.51px;-webkit-text-stroke:0.4px #000;">+5</div>
<div class="t" style="top:772px;font-size:18.4px;left:498.41px;-webkit-text-stroke:0.4px #000;">+6</div>
<div class="t" style="top:578px;font-size:16.5px;left:618.68px;-webkit-text-stroke:0.05px #000;text-decoration:underline;text-decoration-thickness:1px;text-underline-offset:2px;">IR&nbsp;vs&nbsp;Def</div>
<div class="t" style="top:616px;font-size:16.5px;left:613.31px;-webkit-text-stroke:0.05px #000;">SE&nbsp;vs&nbsp;RCB</div>
<div class="t" style="top:636px;font-size:16.5px;left:614.09px;-webkit-text-stroke:0.05px #000;">FL&nbsp;vs&nbsp;LCB</div>
<div class="t" style="top:655px;font-size:16.5px;left:620.70px;-webkit-text-stroke:0.05px #000;">TE&nbsp;vs&nbsp;SS</div>
<div class="t" style="top:674px;font-size:16.5px;left:611.04px;-webkit-text-stroke:0.05px #000;">Wr3&nbsp;vs&nbsp;Db3</div>
<div class="t" style="top:693px;font-size:16.5px;left:610.84px;-webkit-text-stroke:0.05px #000;">Wr4&nbsp;vs&nbsp;Db4</div>
<div class="t" style="top:756px;font-size:16.4px;left:638.26px;-webkit-text-stroke:0.05px #000;">Play</div>
<div class="t" style="top:775px;font-size:16.4px;left:631.79px;-webkit-text-stroke:0.05px #000;">Action</div>
<div class="t" style="top:429px;font-size:24.6px;left:768.50px;-webkit-text-stroke:0.15px #000;letter-spacing:0.2px;">RUN&nbsp;2</div>
<div class="t" style="top:456px;font-size:24.6px;left:768.50px;-webkit-text-stroke:0.15px #000;letter-spacing:0.2px;">DRAW</div>
<div class="t" style="top:427px;font-size:21.33px;left:906.28px;-webkit-text-stroke:0.2px #000;">7</div>
<div class="t" style="top:424px;font-size:16.4px;left:995.64px;letter-spacing:0.081px;-webkit-text-stroke:0.05px #000;">DEFENSE</div>
<div class="t" style="top:443px;font-size:16.4px;left:957.81px;letter-spacing:0.279px;-webkit-text-stroke:0.05px #000;">Short</div>
<div class="t" style="top:443px;font-size:16.4px;left:1008.00px;-webkit-text-stroke:0.05px #000;">-1</div>
<div class="t" style="top:443px;font-size:16.4px;left:1034.24px;letter-spacing:0.192px;-webkit-text-stroke:0.05px #000;">Nickel</div>
<div class="t" style="top:443px;font-size:16.4px;left:1086.81px;-webkit-text-stroke:0.05px #000;">+1</div>
<div class="t" style="top:462px;font-size:16.4px;left:958.44px;letter-spacing:0.347px;-webkit-text-stroke:0.05px #000;">Base</div>
<div class="t" style="top:462px;font-size:16.4px;left:1011.70px;-webkit-text-stroke:0.05px #000;">0</div>
<div class="t" style="top:462px;font-size:16.4px;left:1032.24px;letter-spacing:0.459px;-webkit-text-stroke:0.05px #000;">Dime</div>
<div class="t" style="top:462px;font-size:16.4px;left:1086.11px;-webkit-text-stroke:0.05px #000;">+2</div>
<div class="t" style="top:482px;font-size:16.4px;left:952.64px;-webkit-text-stroke:0.05px #000;">Run&nbsp;-2</div>
<div class="t it" style="top:482px;font-size:16.4px;left:1011.11px;word-spacing:1.319px;-webkit-text-stroke:0.05px #000;">Run&nbsp;Key&nbsp;-6/+4</div>
<div class="t" style="top:501px;font-size:16.4px;left:938.44px;word-spacing:0.832px;-webkit-text-stroke:0.05px #000;">Pass&nbsp;Man&nbsp;+2&nbsp;&nbsp;Pass&nbsp;Zone&nbsp;+2</div>
<div class="t it" style="top:520px;font-size:16.4px;left:941.09px;word-spacing:0.279px;-webkit-text-stroke:0.05px #000;">Dbl&nbsp;Tm&nbsp;+1&nbsp;&nbsp;Blitz&nbsp;+2&nbsp;+3&nbsp;+4</div>
<div class="t" style="top:495px;font-size:18.4px;left:782.81px;-webkit-text-stroke:0.4px #000;">HB</div>
<div class="t" style="top:495px;font-size:18.4px;left:836.00px;-webkit-text-stroke:0.4px #000;">QB</div>
<div class="t" style="top:556px;font-size:18.4px;left:857.68px;-webkit-text-stroke:0.4px #000;">Left</div>
<div class="t" style="top:556px;font-size:18.4px;left:935.48px;-webkit-text-stroke:0.4px #000;">Middle</div>
<div class="t" style="top:556px;font-size:18.4px;left:1026.68px;-webkit-text-stroke:0.4px #000;">Right</div>
<div class="t" style="top:578px;font-size:18.4px;left:791.93px;-webkit-text-stroke:0.4px #000;">Jumbo</div>
<div class="t" style="top:599px;font-size:18.4px;left:791.78px;-webkit-text-stroke:0.4px #000;">Power&nbsp;I</div>
<div class="t" style="top:621px;font-size:18.4px;left:791.78px;-webkit-text-stroke:0.4px #000;">Pro</div>
<div class="t" style="top:643px;font-size:18.4px;left:791.78px;-webkit-text-stroke:0.4px #000;">H-Back</div>
<div class="t" style="top:664px;font-size:18.4px;left:791.07px;-webkit-text-stroke:0.4px #000;">Single</div>
<div class="t" style="top:686px;font-size:18.4px;left:791.78px;-webkit-text-stroke:0.4px #000;">Pistol</div>
<div class="t" style="top:707px;font-size:18.4px;left:791.07px;-webkit-text-stroke:0.4px #000;">Shotgun</div>
<div class="t" style="top:729px;font-size:18.4px;left:791.99px;-webkit-text-stroke:0.4px #000;">Trips</div>
<div class="t" style="top:750px;font-size:18.4px;left:791.07px;-webkit-text-stroke:0.4px #000;">Spread</div>
<div class="t" style="top:772px;font-size:18.4px;left:791.78px;-webkit-text-stroke:0.4px #000;">Empty</div>
<div class="t" style="top:578px;font-size:18.4px;left:950.21px;-webkit-text-stroke:0.4px #000;">+1</div>
<div class="t" style="top:599px;font-size:18.4px;left:950.21px;-webkit-text-stroke:0.4px #000;">+2</div>
<div class="t" style="top:621px;font-size:18.4px;left:950.21px;-webkit-text-stroke:0.4px #000;">+1</div>
<div class="t" style="top:643px;font-size:18.4px;left:950.21px;-webkit-text-stroke:0.4px #000;">+1</div>
<div class="t" style="top:664px;font-size:18.4px;left:960.13px;-webkit-text-stroke:0.4px #000;">0</div>
<div class="t" style="top:686px;font-size:18.4px;left:957.03px;-webkit-text-stroke:0.4px #000;">-1</div>
<div class="t" style="top:707px;font-size:18.4px;left:957.03px;-webkit-text-stroke:0.4px #000;">-1</div>
<div class="t" style="top:729px;font-size:18.4px;left:957.03px;-webkit-text-stroke:0.4px #000;">-2</div>
<div class="t" style="top:750px;font-size:18.4px;left:957.03px;-webkit-text-stroke:0.4px #000;">-3</div>
<div class="t" style="top:772px;font-size:18.4px;left:957.03px;-webkit-text-stroke:0.4px #000;">-4</div>
<div class="t" style="top:429px;font-size:24.6px;left:1140.50px;-webkit-text-stroke:0.15px #000;letter-spacing:0.2px;">PASS&nbsp;2</div>
<div class="t" style="top:456px;font-size:24.6px;left:1139.42px;-webkit-text-stroke:0.15px #000;letter-spacing:0.2px;">OUT</div>
<div class="t" style="top:426px;font-size:21.33px;left:1277.67px;-webkit-text-stroke:0.2px #000;">8</div>
<div class="t" style="top:424px;font-size:16.4px;left:1366.64px;letter-spacing:0.081px;-webkit-text-stroke:0.05px #000;">DEFENSE</div>
<div class="t" style="top:443px;font-size:16.4px;left:1329.31px;letter-spacing:0.279px;-webkit-text-stroke:0.05px #000;">Short</div>
<div class="t" style="top:443px;font-size:16.4px;left:1374.41px;-webkit-text-stroke:0.05px #000;">+1</div>
<div class="t" style="top:443px;font-size:16.4px;left:1405.54px;letter-spacing:0.192px;-webkit-text-stroke:0.05px #000;">Nickel</div>
<div class="t" style="top:443px;font-size:16.4px;left:1462.90px;-webkit-text-stroke:0.05px #000;">-1</div>
<div class="t" style="top:462px;font-size:16.4px;left:1329.94px;letter-spacing:0.347px;-webkit-text-stroke:0.05px #000;">Base</div>
<div class="t" style="top:462px;font-size:16.4px;left:1382.70px;-webkit-text-stroke:0.05px #000;">0</div>
<div class="t" style="top:462px;font-size:16.4px;left:1403.44px;letter-spacing:0.459px;-webkit-text-stroke:0.05px #000;">Dime</div>
<div class="t" style="top:462px;font-size:16.4px;left:1462.20px;-webkit-text-stroke:0.05px #000;">-2</div>
<div class="t" style="top:482px;font-size:16.4px;left:1330.84px;-webkit-text-stroke:0.05px #000;">Run&nbsp;+2</div>
<div class="t it" style="top:482px;font-size:16.4px;left:1393.61px;word-spacing:0.785px;-webkit-text-stroke:0.05px #000;">Run&nbsp;Key&nbsp;+4</div>
<div class="t" style="top:501px;font-size:16.4px;left:1312.24px;word-spacing:0.602px;-webkit-text-stroke:0.05px #000;">Pass&nbsp;Man&nbsp;-2&nbsp;&nbsp;Pass&nbsp;Zone&nbsp;–1</div>
<div class="t it" style="top:520px;font-size:16.4px;left:1311.09px;word-spacing:0.366px;-webkit-text-stroke:0.05px #000;">Dbl&nbsp;Tm&nbsp;-6/+4&nbsp;&nbsp;Blitz&nbsp;-2&nbsp;-3&nbsp;-4</div>
<div class="t sb" style="top:495px;font-size:18.4px;left:1155.85px;letter-spacing:0.7px;-webkit-text-stroke:0.6px #000;">SE</div>
<div class="t sb" style="top:495px;font-size:18.4px;left:1209.49px;letter-spacing:0.7px;-webkit-text-stroke:0.6px #000;">FL</div>
<div class="t sb" style="top:495px;font-size:18.4px;left:1261.95px;letter-spacing:0.7px;-webkit-text-stroke:0.6px #000;">TE</div>
<div class="t" style="top:534px;font-size:14.5px;left:1154.45px;">Wr3</div>
<div class="t" style="top:534px;font-size:14.5px;left:1208.73px;">Wr4</div>
<div class="t" style="top:578px;font-size:18.4px;left:1163.93px;-webkit-text-stroke:0.4px #000;">Jumbo</div>
<div class="t" style="top:599px;font-size:18.4px;left:1163.78px;-webkit-text-stroke:0.4px #000;">Power&nbsp;I</div>
<div class="t" style="top:621px;font-size:18.4px;left:1163.78px;-webkit-text-stroke:0.4px #000;">Pro</div>
<div class="t" style="top:643px;font-size:18.4px;left:1163.78px;-webkit-text-stroke:0.4px #000;">H-Back</div>
<div class="t" style="top:664px;font-size:18.4px;left:1163.07px;-webkit-text-stroke:0.4px #000;">Single</div>
<div class="t" style="top:686px;font-size:18.4px;left:1163.78px;-webkit-text-stroke:0.4px #000;">Pistol</div>
<div class="t" style="top:707px;font-size:18.4px;left:1163.07px;-webkit-text-stroke:0.4px #000;">Shotgun</div>
<div class="t" style="top:729px;font-size:18.4px;left:1163.99px;-webkit-text-stroke:0.4px #000;">Trips</div>
<div class="t" style="top:750px;font-size:18.4px;left:1163.07px;-webkit-text-stroke:0.4px #000;">Spread</div>
<div class="t" style="top:772px;font-size:18.4px;left:1163.78px;-webkit-text-stroke:0.4px #000;">Empty</div>
<div class="t" style="top:578px;font-size:18.4px;left:1239.13px;-webkit-text-stroke:0.4px #000;">-2</div>
<div class="t" style="top:599px;font-size:18.4px;left:1236.73px;-webkit-text-stroke:0.4px #000;">-1</div>
<div class="t" style="top:621px;font-size:18.4px;left:1243.13px;-webkit-text-stroke:0.4px #000;">0</div>
<div class="t" style="top:643px;font-size:18.4px;left:1245.33px;-webkit-text-stroke:0.4px #000;">0</div>
<div class="t" style="top:664px;font-size:18.4px;left:1238.41px;-webkit-text-stroke:0.4px #000;">+1</div>
<div class="t" style="top:686px;font-size:18.4px;left:1239.11px;-webkit-text-stroke:0.4px #000;">+2</div>
<div class="t" style="top:707px;font-size:18.4px;left:1240.11px;-webkit-text-stroke:0.4px #000;">+3</div>
<div class="t" style="top:729px;font-size:18.4px;left:1240.11px;-webkit-text-stroke:0.4px #000;">+4</div>
<div class="t" style="top:750px;font-size:18.4px;left:1239.11px;-webkit-text-stroke:0.4px #000;">+5</div>
<div class="t" style="top:772px;font-size:18.4px;left:1240.91px;-webkit-text-stroke:0.4px #000;">+6</div>
<div class="t" style="top:578px;font-size:16.5px;left:1362.73px;-webkit-text-stroke:0.05px #000;text-decoration:underline;text-decoration-thickness:1px;text-underline-offset:2px;">IR&nbsp;vs&nbsp;Def</div>
<div class="t" style="top:616px;font-size:16.5px;left:1357.36px;-webkit-text-stroke:0.05px #000;">SE&nbsp;vs&nbsp;RCB</div>
<div class="t" style="top:636px;font-size:16.5px;left:1358.14px;-webkit-text-stroke:0.05px #000;">FL&nbsp;vs&nbsp;LCB</div>
<div class="t" style="top:655px;font-size:16.5px;left:1364.75px;-webkit-text-stroke:0.05px #000;">TE&nbsp;vs&nbsp;SS</div>
<div class="t" style="top:674px;font-size:16.5px;left:1355.09px;-webkit-text-stroke:0.05px #000;">Wr3&nbsp;vs&nbsp;Db3</div>
<div class="t" style="top:693px;font-size:16.5px;left:1354.89px;-webkit-text-stroke:0.05px #000;">Wr4&nbsp;vs&nbsp;Db4</div>
<div class="t" style="top:757px;font-size:16.4px;left:1381.16px;-webkit-text-stroke:0.05px #000;">Play</div>
<div class="t" style="top:776px;font-size:16.4px;left:1374.69px;-webkit-text-stroke:0.05px #000;">Action</div>
<div class="t" style="top:820px;font-size:24.6px;left:24.20px;-webkit-text-stroke:0.15px #000;letter-spacing:0.2px;">RUN&nbsp;3</div>
<div class="t" style="top:856px;font-size:24.6px;left:23.42px;-webkit-text-stroke:0.15px #000;letter-spacing:0.2px;">QB&nbsp;BOOTLEG</div>
<div class="t" style="top:816px;font-size:21.33px;left:163.66px;-webkit-text-stroke:0.2px #000;">9</div>
<div class="t" style="top:814px;font-size:16.4px;left:252.64px;letter-spacing:0.081px;-webkit-text-stroke:0.05px #000;">DEFENSE</div>
<div class="t" style="top:834px;font-size:16.4px;left:214.81px;letter-spacing:0.279px;-webkit-text-stroke:0.05px #000;">Short</div>
<div class="t" style="top:834px;font-size:16.4px;left:265.00px;-webkit-text-stroke:0.05px #000;">-1</div>
<div class="t" style="top:834px;font-size:16.4px;left:291.24px;letter-spacing:0.192px;-webkit-text-stroke:0.05px #000;">Nickel</div>
<div class="t" style="top:834px;font-size:16.4px;left:343.81px;-webkit-text-stroke:0.05px #000;">+1</div>
<div class="t" style="top:853px;font-size:16.4px;left:215.44px;letter-spacing:0.347px;-webkit-text-stroke:0.05px #000;">Base</div>
<div class="t" style="top:853px;font-size:16.4px;left:268.70px;-webkit-text-stroke:0.05px #000;">0</div>
<div class="t" style="top:853px;font-size:16.4px;left:289.24px;letter-spacing:0.459px;-webkit-text-stroke:0.05px #000;">Dime</div>
<div class="t" style="top:853px;font-size:16.4px;left:343.11px;-webkit-text-stroke:0.05px #000;">+2</div>
<div class="t" style="top:873px;font-size:16.4px;left:209.64px;-webkit-text-stroke:0.05px #000;">Run&nbsp;-3</div>
<div class="t it" style="top:873px;font-size:16.4px;left:268.61px;word-spacing:1.074px;-webkit-text-stroke:0.05px #000;">Run&nbsp;Key&nbsp;-7/+5</div>
<div class="t" style="top:892px;font-size:16.4px;left:195.44px;word-spacing:0.670px;-webkit-text-stroke:0.05px #000;">Pass&nbsp;Man&nbsp;+3&nbsp;&nbsp;Pass&nbsp;Zone&nbsp;+3</div>
<div class="t it" style="top:911px;font-size:16.4px;left:198.39px;word-spacing:0.263px;-webkit-text-stroke:0.05px #000;">Dbl&nbsp;Tm&nbsp;+1&nbsp;&nbsp;Blitz&nbsp;+1&nbsp;+2&nbsp;+3</div>
<div class="t" style="top:894px;font-size:18.4px;left:91.45px;-webkit-text-stroke:0.4px #000;">QB</div>
<div class="t" style="top:952px;font-size:18.4px;left:108.88px;-webkit-text-stroke:0.4px #000;">Left</div>
<div class="t" style="top:952px;font-size:18.4px;left:187.48px;-webkit-text-stroke:0.4px #000;">Middle</div>
<div class="t" style="top:952px;font-size:18.4px;left:278.68px;-webkit-text-stroke:0.4px #000;">Right</div>
<div class="t" style="top:974px;font-size:18.4px;left:47.63px;-webkit-text-stroke:0.4px #000;">Jumbo</div>
<div class="t" style="top:995px;font-size:18.4px;left:47.48px;-webkit-text-stroke:0.4px #000;">Power&nbsp;I</div>
<div class="t" style="top:1017px;font-size:18.4px;left:47.48px;-webkit-text-stroke:0.4px #000;">Pro</div>
<div class="t" style="top:1038px;font-size:18.4px;left:47.48px;-webkit-text-stroke:0.4px #000;">H-Back</div>
<div class="t" style="top:1060px;font-size:18.4px;left:46.77px;-webkit-text-stroke:0.4px #000;">Single</div>
<div class="t" style="top:1081px;font-size:18.4px;left:47.48px;-webkit-text-stroke:0.4px #000;">Pistol</div>
<div class="t" style="top:1103px;font-size:18.4px;left:46.77px;-webkit-text-stroke:0.4px #000;">Shotgun</div>
<div class="t" style="top:1125px;font-size:18.4px;left:47.69px;-webkit-text-stroke:0.4px #000;">Trips</div>
<div class="t" style="top:1146px;font-size:18.4px;left:46.77px;-webkit-text-stroke:0.4px #000;">Spread</div>
<div class="t" style="top:1168px;font-size:18.4px;left:47.48px;-webkit-text-stroke:0.4px #000;">Empty</div>
<div class="t" style="top:974px;font-size:18.4px;left:117.21px;-webkit-text-stroke:0.4px #000;">+3</div>
<div class="t" style="top:995px;font-size:18.4px;left:115.21px;-webkit-text-stroke:0.4px #000;">+2</div>
<div class="t" style="top:1017px;font-size:18.4px;left:117.21px;-webkit-text-stroke:0.4px #000;">+1</div>
<div class="t" style="top:1038px;font-size:18.4px;left:119.21px;-webkit-text-stroke:0.4px #000;">+1</div>
<div class="t" style="top:1060px;font-size:18.4px;left:126.93px;-webkit-text-stroke:0.4px #000;">0</div>
<div class="t" style="top:1081px;font-size:18.4px;left:123.63px;-webkit-text-stroke:0.4px #000;">-1</div>
<div class="t" style="top:1103px;font-size:18.4px;left:124.93px;-webkit-text-stroke:0.4px #000;">-2</div>
<div class="t" style="top:1125px;font-size:18.4px;left:126.13px;-webkit-text-stroke:0.4px #000;">-3</div>
<div class="t" style="top:1146px;font-size:18.4px;left:124.13px;-webkit-text-stroke:0.4px #000;">-4</div>
<div class="t" style="top:1168px;font-size:18.4px;left:127.13px;-webkit-text-stroke:0.4px #000;">-5</div>
<div class="t" style="top:974px;font-size:18.4px;left:286.11px;-webkit-text-stroke:0.4px #000;">+3</div>
<div class="t" style="top:995px;font-size:18.4px;left:286.11px;-webkit-text-stroke:0.4px #000;">+2</div>
<div class="t" style="top:1017px;font-size:18.4px;left:286.11px;-webkit-text-stroke:0.4px #000;">+1</div>
<div class="t" style="top:1038px;font-size:18.4px;left:286.11px;-webkit-text-stroke:0.4px #000;">+1</div>
<div class="t" style="top:1060px;font-size:18.4px;left:295.73px;-webkit-text-stroke:0.4px #000;">0</div>
<div class="t" style="top:1081px;font-size:18.4px;left:291.83px;-webkit-text-stroke:0.4px #000;">-1</div>
<div class="t" style="top:1103px;font-size:18.4px;left:291.83px;-webkit-text-stroke:0.4px #000;">-2</div>
<div class="t" style="top:1125px;font-size:18.4px;left:291.83px;-webkit-text-stroke:0.4px #000;">-3</div>
<div class="t" style="top:1146px;font-size:18.4px;left:291.83px;-webkit-text-stroke:0.4px #000;">-4</div>
<div class="t" style="top:1168px;font-size:18.4px;left:291.83px;-webkit-text-stroke:0.4px #000;">-5</div>
<div class="t" style="top:820px;font-size:24.6px;left:398.50px;-webkit-text-stroke:0.15px #000;letter-spacing:0.2px;">PASS&nbsp;3</div>
<div class="t" style="top:847px;font-size:24.6px;left:398.50px;-webkit-text-stroke:0.15px #000;letter-spacing:0.2px;">POST</div>
<div class="t" style="top:817px;font-size:21.33px;left:529.10px;-webkit-text-stroke:0.2px #000;">10</div>
<div class="t" style="top:817px;font-size:16.4px;left:624.54px;letter-spacing:0.081px;-webkit-text-stroke:0.05px #000;">DEFENSE</div>
<div class="t" style="top:836px;font-size:16.4px;left:587.21px;letter-spacing:0.279px;-webkit-text-stroke:0.05px #000;">Short</div>
<div class="t" style="top:836px;font-size:16.4px;left:628.11px;-webkit-text-stroke:0.05px #000;">+1</div>
<div class="t" style="top:836px;font-size:16.4px;left:658.84px;letter-spacing:0.298px;-webkit-text-stroke:0.05px #000;">Nick</div>
<div class="t" style="top:836px;font-size:16.4px;left:712.20px;-webkit-text-stroke:0.05px #000;">-1</div>
<div class="t" style="top:855px;font-size:16.4px;left:587.24px;letter-spacing:0.347px;-webkit-text-stroke:0.05px #000;">Base</div>
<div class="t" style="top:855px;font-size:16.4px;left:636.80px;-webkit-text-stroke:0.05px #000;">0</div>
<div class="t" style="top:855px;font-size:16.4px;left:657.14px;letter-spacing:0.459px;-webkit-text-stroke:0.05px #000;">Dime</div>
<div class="t" style="top:855px;font-size:16.4px;left:712.20px;-webkit-text-stroke:0.05px #000;">-3</div>
<div class="t" style="top:875px;font-size:16.4px;left:588.34px;-webkit-text-stroke:0.05px #000;">Run&nbsp;+3</div>
<div class="t it" style="top:875px;font-size:16.4px;left:651.61px;word-spacing:0.685px;-webkit-text-stroke:0.05px #000;">Run&nbsp;Key&nbsp;+6</div>
<div class="t" style="top:894px;font-size:16.4px;left:571.44px;word-spacing:0.648px;-webkit-text-stroke:0.05px #000;">Pass&nbsp;Man&nbsp;-3&nbsp;&nbsp;Pass&nbsp;Zone&nbsp;-3</div>
<div class="t it" style="top:913px;font-size:16.4px;left:569.09px;word-spacing:0.381px;-webkit-text-stroke:0.05px #000;">Dbl&nbsp;Tm&nbsp;-7/+5&nbsp;&nbsp;Blitz&nbsp;-3&nbsp;-4&nbsp;-5</div>
<div class="t sb" style="top:888px;font-size:18.4px;left:413.60px;letter-spacing:0.7px;-webkit-text-stroke:0.6px #000;">SE</div>
<div class="t sb" style="top:888px;font-size:18.4px;left:467.39px;letter-spacing:0.7px;-webkit-text-stroke:0.6px #000;">FL</div>
<div class="t sb" style="top:888px;font-size:18.4px;left:520.00px;letter-spacing:0.7px;-webkit-text-stroke:0.6px #000;">TE</div>
<div class="t" style="top:926px;font-size:14.5px;left:411.85px;">Wr3</div>
<div class="t" style="top:926px;font-size:14.5px;left:465.88px;">Wr4</div>
<div class="t" style="top:969px;font-size:18.4px;left:421.93px;-webkit-text-stroke:0.4px #000;">Jumbo</div>
<div class="t" style="top:990px;font-size:18.4px;left:421.78px;-webkit-text-stroke:0.4px #000;">Power&nbsp;I</div>
<div class="t" style="top:1012px;font-size:18.4px;left:421.78px;-webkit-text-stroke:0.4px #000;">Pro</div>
<div class="t" style="top:1034px;font-size:18.4px;left:421.78px;-webkit-text-stroke:0.4px #000;">H-Back</div>
<div class="t" style="top:1055px;font-size:18.4px;left:421.07px;-webkit-text-stroke:0.4px #000;">Single</div>
<div class="t" style="top:1077px;font-size:18.4px;left:421.78px;-webkit-text-stroke:0.4px #000;">Pistol</div>
<div class="t" style="top:1098px;font-size:18.4px;left:421.07px;-webkit-text-stroke:0.4px #000;">Shotgun</div>
<div class="t" style="top:1120px;font-size:18.4px;left:421.99px;-webkit-text-stroke:0.4px #000;">Trips</div>
<div class="t" style="top:1141px;font-size:18.4px;left:421.07px;-webkit-text-stroke:0.4px #000;">Spread</div>
<div class="t" style="top:1163px;font-size:18.4px;left:421.78px;-webkit-text-stroke:0.4px #000;">Empty</div>
<div class="t" style="top:969px;font-size:18.4px;left:496.93px;-webkit-text-stroke:0.4px #000;">-3</div>
<div class="t" style="top:990px;font-size:18.4px;left:494.93px;-webkit-text-stroke:0.4px #000;">-2</div>
<div class="t" style="top:1012px;font-size:18.4px;left:496.93px;-webkit-text-stroke:0.4px #000;">-1</div>
<div class="t" style="top:1034px;font-size:18.4px;left:503.13px;-webkit-text-stroke:0.4px #000;">0</div>
<div class="t" style="top:1055px;font-size:18.4px;left:496.01px;-webkit-text-stroke:0.4px #000;">+1</div>
<div class="t" style="top:1077px;font-size:18.4px;left:497.21px;-webkit-text-stroke:0.4px #000;">+2</div>
<div class="t" style="top:1098px;font-size:18.4px;left:497.71px;-webkit-text-stroke:0.4px #000;">+3</div>
<div class="t" style="top:1120px;font-size:18.4px;left:497.71px;-webkit-text-stroke:0.4px #000;">+4</div>
<div class="t" style="top:1141px;font-size:18.4px;left:497.01px;-webkit-text-stroke:0.4px #000;">+5</div>
<div class="t" style="top:1163px;font-size:18.4px;left:498.91px;-webkit-text-stroke:0.4px #000;">+6</div>
<div class="t" style="top:966px;font-size:16.5px;left:621.73px;-webkit-text-stroke:0.05px #000;text-decoration:underline;text-decoration-thickness:1px;text-underline-offset:2px;">IR&nbsp;vs&nbsp;Def</div>
<div class="t" style="top:1004px;font-size:16.5px;left:616.36px;-webkit-text-stroke:0.05px #000;">SE&nbsp;vs&nbsp;RCB</div>
<div class="t" style="top:1024px;font-size:16.5px;left:617.14px;-webkit-text-stroke:0.05px #000;">FL&nbsp;vs&nbsp;LCB</div>
<div class="t" style="top:1043px;font-size:16.5px;left:623.75px;-webkit-text-stroke:0.05px #000;">TE&nbsp;vs&nbsp;SS</div>
<div class="t" style="top:1062px;font-size:16.5px;left:614.09px;-webkit-text-stroke:0.05px #000;">Wr3&nbsp;vs&nbsp;Db3</div>
<div class="t" style="top:1081px;font-size:16.5px;left:613.89px;-webkit-text-stroke:0.05px #000;">Wr4&nbsp;vs&nbsp;Db4</div>
<div class="t" style="top:1148px;font-size:16.4px;left:640.16px;-webkit-text-stroke:0.05px #000;">Play</div>
<div class="t" style="top:1167px;font-size:16.4px;left:633.69px;-webkit-text-stroke:0.05px #000;">Action</div>
<div class="t" style="top:820px;font-size:24.6px;left:769.20px;-webkit-text-stroke:0.15px #000;letter-spacing:0.2px;">RUN&nbsp;3</div>
<div class="t" style="top:847px;font-size:24.6px;left:769.20px;-webkit-text-stroke:0.15px #000;letter-spacing:0.2px;">REVERSE</div>
<div class="t" style="top:817px;font-size:21.33px;left:901.05px;-webkit-text-stroke:0.2px #000;">11</div>
<div class="t" style="top:814px;font-size:16.4px;left:995.64px;letter-spacing:0.081px;-webkit-text-stroke:0.05px #000;">DEFENSE</div>
<div class="t" style="top:834px;font-size:16.4px;left:957.81px;letter-spacing:0.279px;-webkit-text-stroke:0.05px #000;">Short</div>
<div class="t" style="top:834px;font-size:16.4px;left:1008.00px;-webkit-text-stroke:0.05px #000;">-1</div>
<div class="t" style="top:834px;font-size:16.4px;left:1034.24px;letter-spacing:0.192px;-webkit-text-stroke:0.05px #000;">Nickel</div>
<div class="t" style="top:834px;font-size:16.4px;left:1086.81px;-webkit-text-stroke:0.05px #000;">+1</div>
<div class="t" style="top:853px;font-size:16.4px;left:958.44px;letter-spacing:0.347px;-webkit-text-stroke:0.05px #000;">Base</div>
<div class="t" style="top:853px;font-size:16.4px;left:1011.70px;-webkit-text-stroke:0.05px #000;">0</div>
<div class="t" style="top:853px;font-size:16.4px;left:1032.24px;letter-spacing:0.459px;-webkit-text-stroke:0.05px #000;">Dime</div>
<div class="t" style="top:853px;font-size:16.4px;left:1086.11px;-webkit-text-stroke:0.05px #000;">+2</div>
<div class="t" style="top:873px;font-size:16.4px;left:949.64px;-webkit-text-stroke:0.05px #000;">Run&nbsp;–4</div>
<div class="t it" style="top:873px;font-size:16.4px;left:1011.11px;word-spacing:0.957px;-webkit-text-stroke:0.05px #000;">Run&nbsp;Key&nbsp;–7/+5</div>
<div class="t" style="top:892px;font-size:16.4px;left:938.44px;word-spacing:0.723px;-webkit-text-stroke:0.05px #000;">Pass&nbsp;Man&nbsp;+4&nbsp;&nbsp;Pass&nbsp;Zone&nbsp;+4</div>
<div class="t it" style="top:911px;font-size:16.4px;left:941.09px;word-spacing:0.295px;-webkit-text-stroke:0.05px #000;">Dbl&nbsp;Tm&nbsp;+1&nbsp;&nbsp;Blitz&nbsp;+3&nbsp;+4&nbsp;+5</div>
<div class="t sb" style="top:886px;font-size:18.4px;left:787.25px;letter-spacing:0.7px;-webkit-text-stroke:0.6px #000;">SE</div>
<div class="t sb" style="top:886px;font-size:18.4px;left:839.74px;letter-spacing:0.7px;-webkit-text-stroke:0.6px #000;">FL</div>
<div class="t" style="top:886px;font-size:18.4px;left:887.91px;-webkit-text-stroke:0.4px #000;">HB</div>
<div class="t" style="top:952px;font-size:18.4px;left:858.38px;-webkit-text-stroke:0.4px #000;">Left</div>
<div class="t" style="top:952px;font-size:18.4px;left:936.68px;-webkit-text-stroke:0.4px #000;">Middle</div>
<div class="t" style="top:952px;font-size:18.4px;left:1027.38px;-webkit-text-stroke:0.4px #000;">Right</div>
<div class="t" style="top:974px;font-size:18.4px;left:792.63px;-webkit-text-stroke:0.4px #000;">Jumbo</div>
<div class="t" style="top:995px;font-size:18.4px;left:792.48px;-webkit-text-stroke:0.4px #000;">Power&nbsp;I</div>
<div class="t" style="top:1017px;font-size:18.4px;left:792.48px;-webkit-text-stroke:0.4px #000;">Pro</div>
<div class="t" style="top:1038px;font-size:18.4px;left:792.48px;-webkit-text-stroke:0.4px #000;">H-Back</div>
<div class="t" style="top:1060px;font-size:18.4px;left:791.77px;-webkit-text-stroke:0.4px #000;">Single</div>
<div class="t" style="top:1081px;font-size:18.4px;left:792.48px;-webkit-text-stroke:0.4px #000;">Pistol</div>
<div class="t" style="top:1103px;font-size:18.4px;left:791.77px;-webkit-text-stroke:0.4px #000;">Shotgun</div>
<div class="t" style="top:1125px;font-size:18.4px;left:792.69px;-webkit-text-stroke:0.4px #000;">Trips</div>
<div class="t" style="top:1146px;font-size:18.4px;left:791.77px;-webkit-text-stroke:0.4px #000;">Spread</div>
<div class="t" style="top:1168px;font-size:18.4px;left:792.48px;-webkit-text-stroke:0.4px #000;">Empty</div>
<div class="t" style="top:995px;font-size:18.4px;left:860.21px;-webkit-text-stroke:0.4px #000;">+2</div>
<div class="t" style="top:1017px;font-size:18.4px;left:862.21px;-webkit-text-stroke:0.4px #000;">+1</div>
<div class="t" style="top:1038px;font-size:18.4px;left:864.21px;-webkit-text-stroke:0.4px #000;">+1</div>
<div class="t" style="top:1060px;font-size:18.4px;left:871.93px;-webkit-text-stroke:0.4px #000;">0</div>
<div class="t" style="top:1081px;font-size:18.4px;left:868.63px;-webkit-text-stroke:0.4px #000;">-1</div>
<div class="t" style="top:1103px;font-size:18.4px;left:869.93px;-webkit-text-stroke:0.4px #000;">-2</div>
<div class="t" style="top:1125px;font-size:18.4px;left:871.13px;-webkit-text-stroke:0.4px #000;">-3</div>
<div class="t" style="top:1146px;font-size:18.4px;left:869.13px;-webkit-text-stroke:0.4px #000;">-4</div>
<div class="t" style="top:1168px;font-size:18.4px;left:872.13px;-webkit-text-stroke:0.4px #000;">-5</div>
<div class="t" style="top:995px;font-size:18.4px;left:1031.11px;-webkit-text-stroke:0.4px #000;">+2</div>
<div class="t" style="top:1017px;font-size:18.4px;left:1031.11px;-webkit-text-stroke:0.4px #000;">+1</div>
<div class="t" style="top:1038px;font-size:18.4px;left:1031.11px;-webkit-text-stroke:0.4px #000;">+1</div>
<div class="t" style="top:1060px;font-size:18.4px;left:1040.73px;-webkit-text-stroke:0.4px #000;">0</div>
<div class="t" style="top:1081px;font-size:18.4px;left:1036.83px;-webkit-text-stroke:0.4px #000;">-1</div>
<div class="t" style="top:1103px;font-size:18.4px;left:1036.83px;-webkit-text-stroke:0.4px #000;">-2</div>
<div class="t" style="top:1125px;font-size:18.4px;left:1036.83px;-webkit-text-stroke:0.4px #000;">-3</div>
<div class="t" style="top:1146px;font-size:18.4px;left:1036.83px;-webkit-text-stroke:0.4px #000;">-4</div>
<div class="t" style="top:1168px;font-size:18.4px;left:1036.83px;-webkit-text-stroke:0.4px #000;">-5</div>
<div class="t" style="top:821px;font-size:24.6px;left:1139.20px;-webkit-text-stroke:0.15px #000;letter-spacing:0.2px;">PASS&nbsp;3</div>
<div class="t" style="top:849px;font-size:24.6px;left:1138.92px;-webkit-text-stroke:0.15px #000;letter-spacing:0.2px;">CORNER</div>
<div class="t" style="top:818px;font-size:21.33px;left:1269.90px;-webkit-text-stroke:0.2px #000;">12</div>
<div class="t" style="top:816px;font-size:16.4px;left:1364.64px;letter-spacing:0.081px;-webkit-text-stroke:0.05px #000;">DEFENSE</div>
<div class="t" style="top:835px;font-size:16.4px;left:1327.31px;letter-spacing:0.279px;-webkit-text-stroke:0.05px #000;">Short</div>
<div class="t" style="top:835px;font-size:16.4px;left:1368.21px;-webkit-text-stroke:0.05px #000;">+1</div>
<div class="t" style="top:835px;font-size:16.4px;left:1398.94px;letter-spacing:0.298px;-webkit-text-stroke:0.05px #000;">Nick</div>
<div class="t" style="top:835px;font-size:16.4px;left:1452.30px;-webkit-text-stroke:0.05px #000;">-1</div>
<div class="t" style="top:854px;font-size:16.4px;left:1327.34px;letter-spacing:0.347px;-webkit-text-stroke:0.05px #000;">Base</div>
<div class="t" style="top:854px;font-size:16.4px;left:1376.90px;-webkit-text-stroke:0.05px #000;">0</div>
<div class="t" style="top:854px;font-size:16.4px;left:1397.24px;letter-spacing:0.459px;-webkit-text-stroke:0.05px #000;">Dime</div>
<div class="t" style="top:854px;font-size:16.4px;left:1452.30px;-webkit-text-stroke:0.05px #000;">-3</div>
<div class="t" style="top:874px;font-size:16.4px;left:1328.34px;-webkit-text-stroke:0.05px #000;">Run&nbsp;+3</div>
<div class="t it" style="top:874px;font-size:16.4px;left:1391.61px;word-spacing:0.685px;-webkit-text-stroke:0.05px #000;">Run&nbsp;Key&nbsp;+6</div>
<div class="t" style="top:893px;font-size:16.4px;left:1311.44px;word-spacing:0.648px;-webkit-text-stroke:0.05px #000;">Pass&nbsp;Man&nbsp;-3&nbsp;&nbsp;Pass&nbsp;Zone&nbsp;-3</div>
<div class="t it" style="top:911px;font-size:16.4px;left:1309.09px;word-spacing:0.381px;-webkit-text-stroke:0.05px #000;">Dbl&nbsp;Tm&nbsp;-7/+5&nbsp;&nbsp;Blitz&nbsp;-3&nbsp;-4&nbsp;-5</div>
<div class="t sb" style="top:888px;font-size:18.4px;left:1154.10px;letter-spacing:0.7px;-webkit-text-stroke:0.6px #000;">SE</div>
<div class="t sb" style="top:888px;font-size:18.4px;left:1207.64px;letter-spacing:0.7px;-webkit-text-stroke:0.6px #000;">FL</div>
<div class="t sb" style="top:888px;font-size:18.4px;left:1260.20px;letter-spacing:0.7px;-webkit-text-stroke:0.6px #000;">TE</div>
<div class="t" style="top:926px;font-size:14.5px;left:1151.60px;">Wr3</div>
<div class="t" style="top:926px;font-size:14.5px;left:1205.63px;">Wr4</div>
<div class="t" style="top:970px;font-size:18.4px;left:1162.63px;-webkit-text-stroke:0.4px #000;">Jumbo</div>
<div class="t" style="top:991px;font-size:18.4px;left:1162.48px;-webkit-text-stroke:0.4px #000;">Power&nbsp;I</div>
<div class="t" style="top:1013px;font-size:18.4px;left:1162.48px;-webkit-text-stroke:0.4px #000;">Pro</div>
<div class="t" style="top:1035px;font-size:18.4px;left:1162.48px;-webkit-text-stroke:0.4px #000;">H-Back</div>
<div class="t" style="top:1056px;font-size:18.4px;left:1161.77px;-webkit-text-stroke:0.4px #000;">Single</div>
<div class="t" style="top:1078px;font-size:18.4px;left:1162.48px;-webkit-text-stroke:0.4px #000;">Pistol</div>
<div class="t" style="top:1099px;font-size:18.4px;left:1161.77px;-webkit-text-stroke:0.4px #000;">Shotgun</div>
<div class="t" style="top:1121px;font-size:18.4px;left:1162.69px;-webkit-text-stroke:0.4px #000;">Trips</div>
<div class="t" style="top:1142px;font-size:18.4px;left:1161.77px;-webkit-text-stroke:0.4px #000;">Spread</div>
<div class="t" style="top:1164px;font-size:18.4px;left:1162.48px;-webkit-text-stroke:0.4px #000;">Empty</div>
<div class="t" style="top:970px;font-size:18.4px;left:1238.13px;-webkit-text-stroke:0.4px #000;">-3</div>
<div class="t" style="top:991px;font-size:18.4px;left:1236.23px;-webkit-text-stroke:0.4px #000;">-2</div>
<div class="t" style="top:1013px;font-size:18.4px;left:1238.13px;-webkit-text-stroke:0.4px #000;">-1</div>
<div class="t" style="top:1035px;font-size:18.4px;left:1244.33px;-webkit-text-stroke:0.4px #000;">0</div>
<div class="t" style="top:1056px;font-size:18.4px;left:1237.21px;-webkit-text-stroke:0.4px #000;">+1</div>
<div class="t" style="top:1078px;font-size:18.4px;left:1238.41px;-webkit-text-stroke:0.4px #000;">+2</div>
<div class="t" style="top:1099px;font-size:18.4px;left:1238.91px;-webkit-text-stroke:0.4px #000;">+3</div>
<div class="t" style="top:1121px;font-size:18.4px;left:1238.91px;-webkit-text-stroke:0.4px #000;">+4</div>
<div class="t" style="top:1142px;font-size:18.4px;left:1237.71px;-webkit-text-stroke:0.4px #000;">+5</div>
<div class="t" style="top:1164px;font-size:18.4px;left:1239.71px;-webkit-text-stroke:0.4px #000;">+6</div>
<div class="t" style="top:966px;font-size:16.5px;left:1358.68px;-webkit-text-stroke:0.05px #000;text-decoration:underline;text-decoration-thickness:1px;text-underline-offset:2px;">IR&nbsp;vs&nbsp;Def</div>
<div class="t" style="top:1004px;font-size:16.5px;left:1353.31px;-webkit-text-stroke:0.05px #000;">SE&nbsp;vs&nbsp;RCB</div>
<div class="t" style="top:1024px;font-size:16.5px;left:1354.09px;-webkit-text-stroke:0.05px #000;">FL&nbsp;vs&nbsp;LCB</div>
<div class="t" style="top:1043px;font-size:16.5px;left:1360.70px;-webkit-text-stroke:0.05px #000;">TE&nbsp;vs&nbsp;SS</div>
<div class="t" style="top:1062px;font-size:16.5px;left:1351.04px;-webkit-text-stroke:0.05px #000;">Wr3&nbsp;vs&nbsp;Db3</div>
<div class="t" style="top:1081px;font-size:16.5px;left:1350.85px;-webkit-text-stroke:0.05px #000;">Wr4&nbsp;vs&nbsp;Db4</div>
<div class="t" style="top:1149px;font-size:16.4px;left:1378.16px;-webkit-text-stroke:0.05px #000;">Play</div>
<div class="t" style="top:1168px;font-size:16.4px;left:1371.69px;-webkit-text-stroke:0.05px #000;">Action</div>
<div class="t" style="top:3px;font-size:20.7px;left:6.47px;word-spacing:0.772px;-webkit-text-stroke:0.1px #000;">OFFENSIVE&nbsp;PLAYS</div>
<div class="t" style="top:3px;font-size:18.6px;left:315.90px;word-spacing:0.349px;-webkit-text-stroke:0.35px #000;">*When&nbsp;“Play&nbsp;Action”&nbsp;is&nbsp;selected&nbsp;,&nbsp;20-die&nbsp;receives&nbsp;an&nbsp;additional&nbsp;+1&nbsp;if&nbsp;Defense&nbsp;is&nbsp;“Run&nbsp;or&nbsp;Run/Key”.&nbsp;&nbsp;20-die&nbsp;receives&nbsp;an&nbsp;additional&nbsp;–1&nbsp;if&nbsp;Defense&nbsp;is&nbsp;“Blitzing”.</div>
</div>
</body></html>
